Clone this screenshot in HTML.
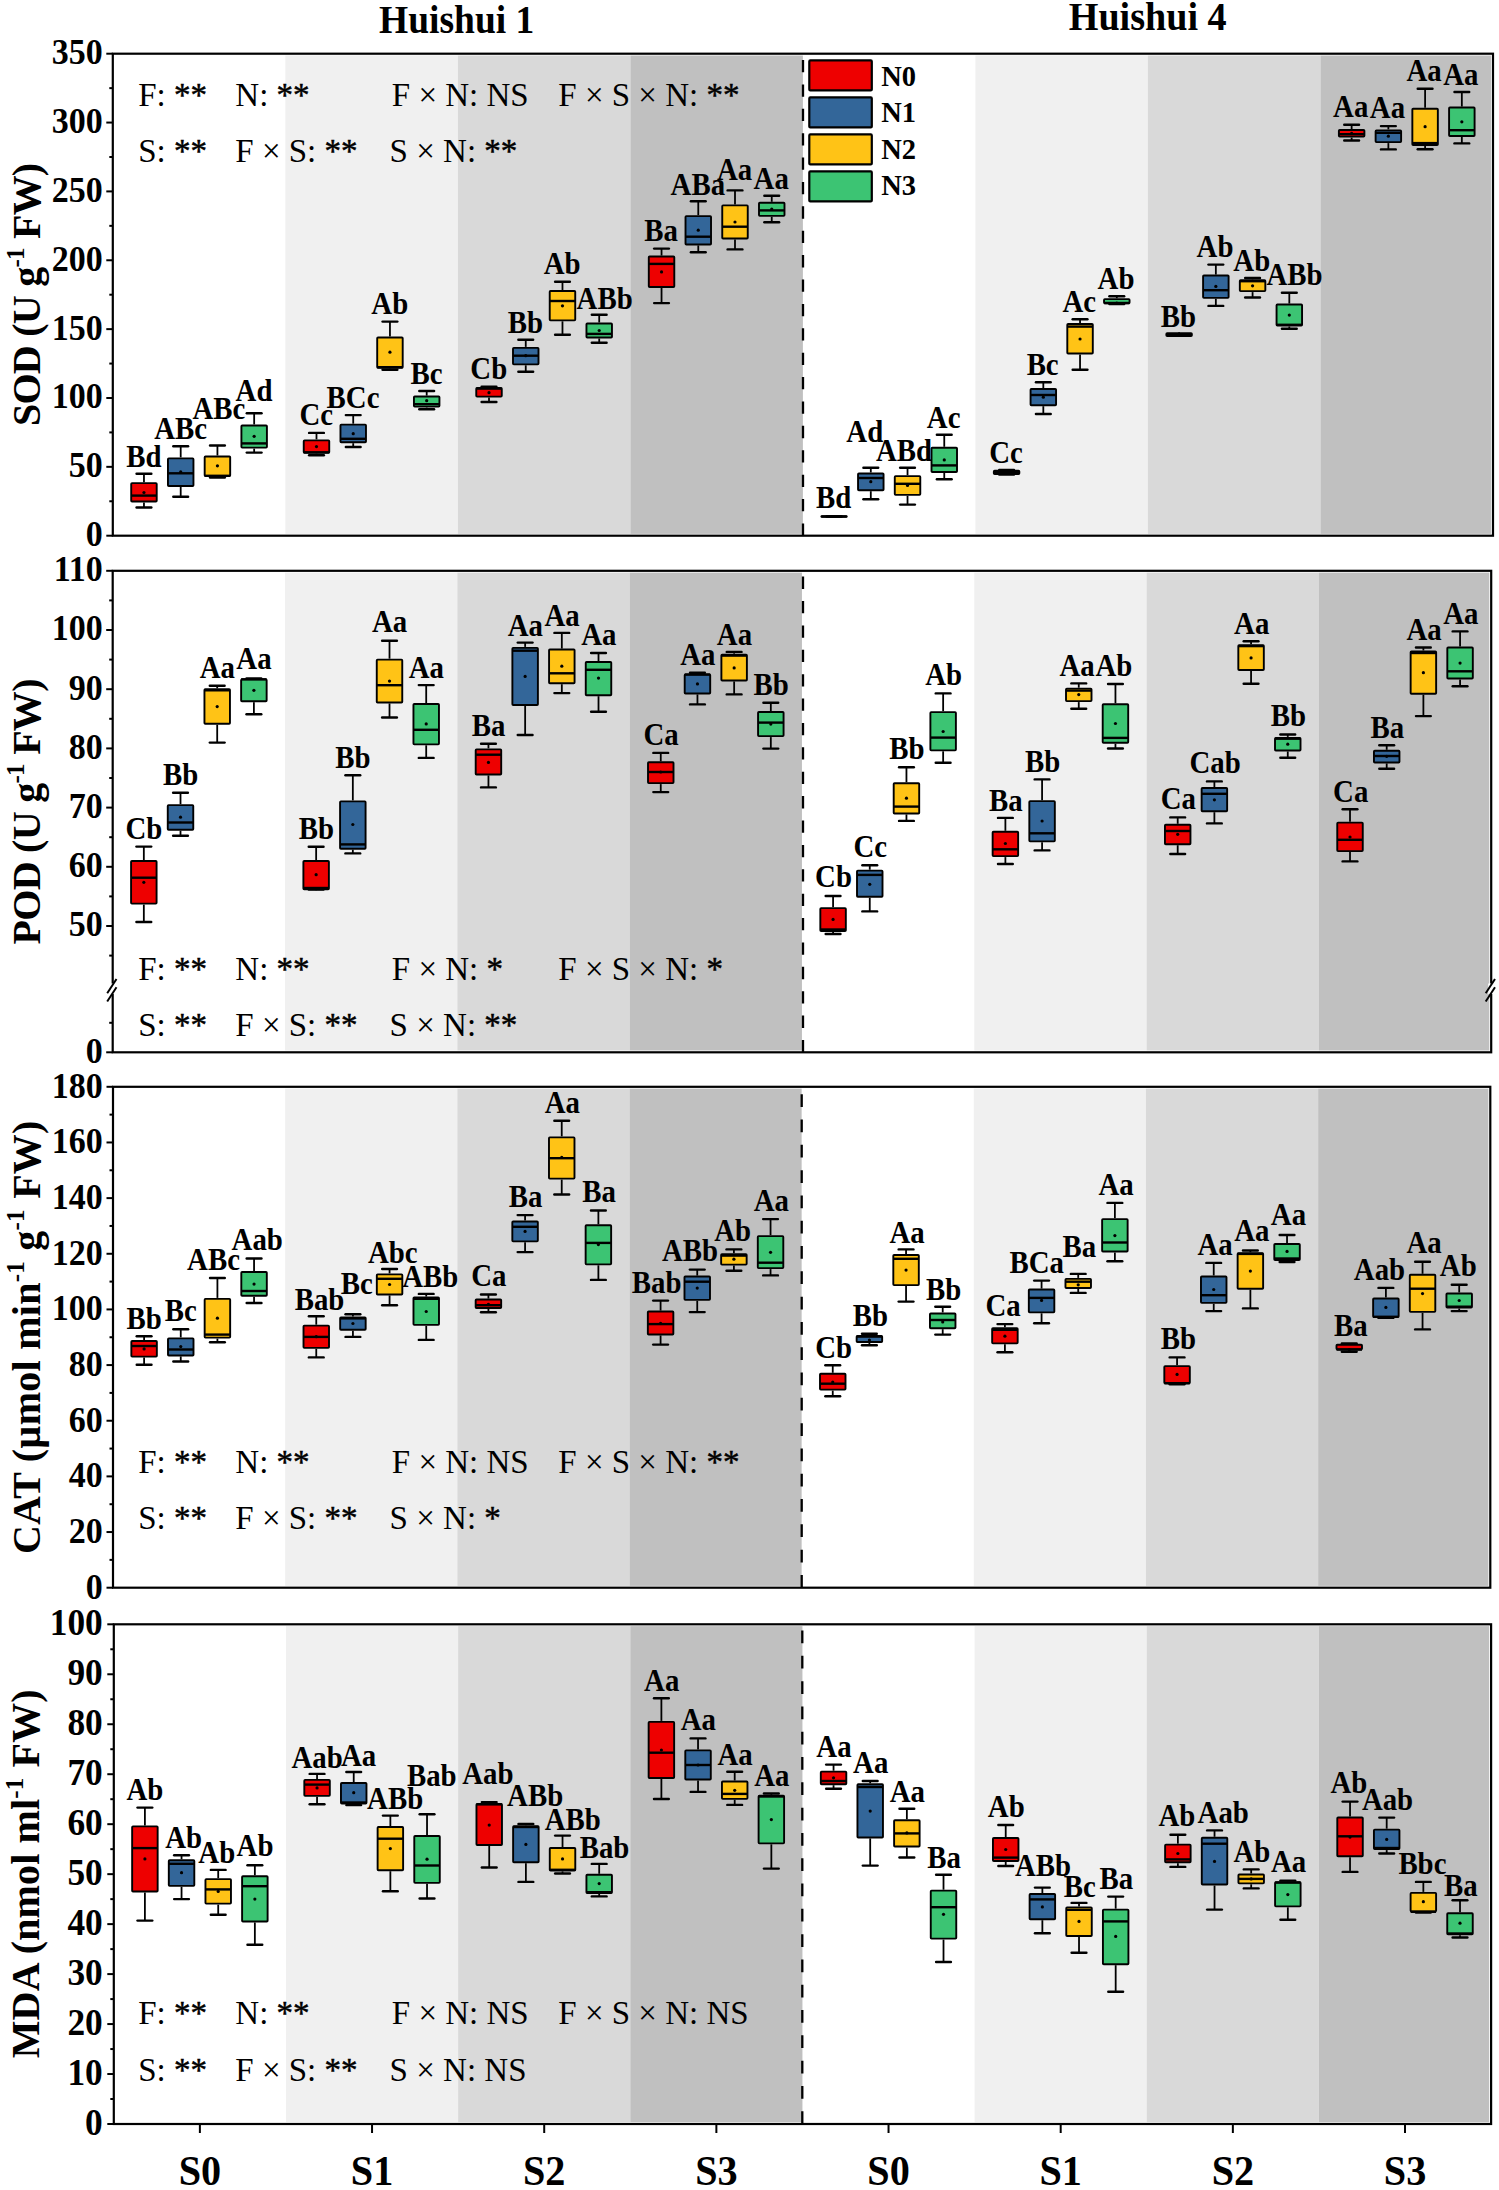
<!DOCTYPE html>
<html><head><meta charset="utf-8"><style>html,body{margin:0;padding:0;background:#fff;}</style></head>
<body><svg width="1499" height="2190" viewBox="0 0 1499 2190" style="display:block">
<rect width="1499" height="2190" fill="#fff"/>
<text transform="translate(456.7,32.6) scale(1.0,1.075)" text-anchor="middle" style="font-family:'Liberation Serif',serif;font-weight:bold;font-size:37.5px">Huishui 1</text>
<text transform="translate(1147.7,30.1) scale(1.017,1.05)" text-anchor="middle" style="font-family:'Liberation Serif',serif;font-weight:bold;font-size:37.5px">Huishui 4</text>
<rect x="285.32" y="55.50" width="172.53" height="478.40" fill="#F0F0F0"/>
<rect x="457.85" y="55.50" width="172.52" height="478.40" fill="#D9D9D9"/>
<rect x="630.38" y="55.50" width="172.52" height="478.40" fill="#C0C0C0"/>
<rect x="975.42" y="55.50" width="172.53" height="478.40" fill="#F0F0F0"/>
<rect x="1147.95" y="55.50" width="172.52" height="478.40" fill="#D9D9D9"/>
<rect x="1320.47" y="55.50" width="170.62" height="478.40" fill="#C0C0C0"/>
<line x1="803.00" y1="535.70" x2="803.00" y2="53.70" stroke="#000" stroke-width="2.3" stroke-dasharray="12.29,12.10"/>
<line x1="143.96" y1="473.80" x2="143.96" y2="482.20" stroke="#000" stroke-width="1.8"/>
<line x1="143.96" y1="502.50" x2="143.96" y2="507.50" stroke="#000" stroke-width="1.8"/>
<line x1="136.56" y1="473.80" x2="151.36" y2="473.80" stroke="#000" stroke-width="2.4" stroke-linecap="round"/>
<line x1="136.56" y1="507.50" x2="151.36" y2="507.50" stroke="#000" stroke-width="2.4" stroke-linecap="round"/>
<rect x="131.21" y="483.15" width="25.50" height="18.40" fill="#EE0000" stroke="#000" stroke-width="1.9" rx="0.8"/>
<line x1="131.21" y1="495.60" x2="156.71" y2="495.60" stroke="#000" stroke-width="2.4"/>
<circle cx="143.96" cy="492.50" r="1.6" fill="#000"/>
<text transform="translate(143.95,467.00) scale(1.03,1.1)" text-anchor="middle" style="font-family:'Liberation Serif',serif;font-weight:bold;font-size:28px">Bd</text>
<line x1="180.70" y1="446.30" x2="180.70" y2="457.40" stroke="#000" stroke-width="1.8"/>
<line x1="180.70" y1="487.00" x2="180.70" y2="496.80" stroke="#000" stroke-width="1.8"/>
<line x1="173.30" y1="446.30" x2="188.10" y2="446.30" stroke="#000" stroke-width="2.4" stroke-linecap="round"/>
<line x1="173.30" y1="496.80" x2="188.10" y2="496.80" stroke="#000" stroke-width="2.4" stroke-linecap="round"/>
<rect x="167.95" y="458.35" width="25.50" height="27.70" fill="#336699" stroke="#000" stroke-width="1.9" rx="0.8"/>
<line x1="167.95" y1="473.30" x2="193.45" y2="473.30" stroke="#000" stroke-width="2.4"/>
<circle cx="180.70" cy="471.90" r="1.6" fill="#000"/>
<text transform="translate(180.65,439.40) scale(1.03,1.1)" text-anchor="middle" style="font-family:'Liberation Serif',serif;font-weight:bold;font-size:28px">ABc</text>
<line x1="217.43" y1="445.50" x2="217.43" y2="455.50" stroke="#000" stroke-width="1.8"/>
<line x1="217.43" y1="476.90" x2="217.43" y2="477.60" stroke="#000" stroke-width="1.8"/>
<line x1="210.03" y1="445.50" x2="224.83" y2="445.50" stroke="#000" stroke-width="2.4" stroke-linecap="round"/>
<line x1="210.03" y1="477.60" x2="224.83" y2="477.60" stroke="#000" stroke-width="2.4" stroke-linecap="round"/>
<rect x="204.68" y="456.45" width="25.50" height="19.50" fill="#FFC316" stroke="#000" stroke-width="1.9" rx="0.8"/>
<line x1="204.68" y1="475.80" x2="230.18" y2="475.80" stroke="#000" stroke-width="2.4"/>
<circle cx="217.43" cy="465.80" r="1.6" fill="#000"/>
<text transform="translate(218.85,419.40) scale(1.03,1.1)" text-anchor="middle" style="font-family:'Liberation Serif',serif;font-weight:bold;font-size:28px">ABc</text>
<line x1="254.16" y1="413.30" x2="254.16" y2="424.50" stroke="#000" stroke-width="1.8"/>
<line x1="254.16" y1="448.60" x2="254.16" y2="452.60" stroke="#000" stroke-width="1.8"/>
<line x1="246.76" y1="413.30" x2="261.56" y2="413.30" stroke="#000" stroke-width="2.4" stroke-linecap="round"/>
<line x1="246.76" y1="452.60" x2="261.56" y2="452.60" stroke="#000" stroke-width="2.4" stroke-linecap="round"/>
<rect x="241.41" y="425.45" width="25.50" height="22.20" fill="#3CC473" stroke="#000" stroke-width="1.9" rx="0.8"/>
<line x1="241.41" y1="443.40" x2="266.91" y2="443.40" stroke="#000" stroke-width="2.4"/>
<circle cx="254.16" cy="436.30" r="1.6" fill="#000"/>
<text transform="translate(254.05,401.00) scale(1.03,1.1)" text-anchor="middle" style="font-family:'Liberation Serif',serif;font-weight:bold;font-size:28px">Ad</text>
<line x1="316.49" y1="432.90" x2="316.49" y2="439.40" stroke="#000" stroke-width="1.8"/>
<line x1="316.49" y1="453.70" x2="316.49" y2="455.20" stroke="#000" stroke-width="1.8"/>
<line x1="309.09" y1="432.90" x2="323.89" y2="432.90" stroke="#000" stroke-width="2.4" stroke-linecap="round"/>
<line x1="309.09" y1="455.20" x2="323.89" y2="455.20" stroke="#000" stroke-width="2.4" stroke-linecap="round"/>
<rect x="303.74" y="440.35" width="25.50" height="12.40" fill="#EE0000" stroke="#000" stroke-width="1.9" rx="0.8"/>
<line x1="303.74" y1="452.30" x2="329.24" y2="452.30" stroke="#000" stroke-width="2.4"/>
<circle cx="316.49" cy="446.60" r="1.6" fill="#000"/>
<text transform="translate(316.35,425.10) scale(1.03,1.1)" text-anchor="middle" style="font-family:'Liberation Serif',serif;font-weight:bold;font-size:28px">Cc</text>
<line x1="353.22" y1="415.10" x2="353.22" y2="423.70" stroke="#000" stroke-width="1.8"/>
<line x1="353.22" y1="443.20" x2="353.22" y2="447.00" stroke="#000" stroke-width="1.8"/>
<line x1="345.82" y1="415.10" x2="360.62" y2="415.10" stroke="#000" stroke-width="2.4" stroke-linecap="round"/>
<line x1="345.82" y1="447.00" x2="360.62" y2="447.00" stroke="#000" stroke-width="2.4" stroke-linecap="round"/>
<rect x="340.47" y="424.65" width="25.50" height="17.60" fill="#336699" stroke="#000" stroke-width="1.9" rx="0.8"/>
<line x1="340.47" y1="438.80" x2="365.97" y2="438.80" stroke="#000" stroke-width="2.4"/>
<circle cx="353.22" cy="433.70" r="1.6" fill="#000"/>
<text transform="translate(353.05,407.60) scale(1.03,1.1)" text-anchor="middle" style="font-family:'Liberation Serif',serif;font-weight:bold;font-size:28px">BCc</text>
<line x1="389.95" y1="321.60" x2="389.95" y2="336.50" stroke="#000" stroke-width="1.8"/>
<line x1="389.95" y1="368.80" x2="389.95" y2="369.70" stroke="#000" stroke-width="1.8"/>
<line x1="382.55" y1="321.60" x2="397.35" y2="321.60" stroke="#000" stroke-width="2.4" stroke-linecap="round"/>
<line x1="382.55" y1="369.70" x2="397.35" y2="369.70" stroke="#000" stroke-width="2.4" stroke-linecap="round"/>
<rect x="377.20" y="337.45" width="25.50" height="30.40" fill="#FFC316" stroke="#000" stroke-width="1.9" rx="0.8"/>
<line x1="377.20" y1="367.20" x2="402.70" y2="367.20" stroke="#000" stroke-width="2.4"/>
<circle cx="389.95" cy="352.20" r="1.6" fill="#000"/>
<text transform="translate(389.75,314.10) scale(1.03,1.1)" text-anchor="middle" style="font-family:'Liberation Serif',serif;font-weight:bold;font-size:28px">Ab</text>
<line x1="426.69" y1="391.00" x2="426.69" y2="395.60" stroke="#000" stroke-width="1.8"/>
<line x1="426.69" y1="407.60" x2="426.69" y2="409.30" stroke="#000" stroke-width="1.8"/>
<line x1="419.29" y1="391.00" x2="434.09" y2="391.00" stroke="#000" stroke-width="2.4" stroke-linecap="round"/>
<line x1="419.29" y1="409.30" x2="434.09" y2="409.30" stroke="#000" stroke-width="2.4" stroke-linecap="round"/>
<rect x="413.94" y="396.55" width="25.50" height="10.10" fill="#3CC473" stroke="#000" stroke-width="1.9" rx="0.8"/>
<line x1="413.94" y1="404.20" x2="439.44" y2="404.20" stroke="#000" stroke-width="2.4"/>
<circle cx="426.69" cy="400.70" r="1.6" fill="#000"/>
<text transform="translate(426.45,383.80) scale(1.03,1.1)" text-anchor="middle" style="font-family:'Liberation Serif',serif;font-weight:bold;font-size:28px">Bc</text>
<line x1="489.01" y1="386.70" x2="489.01" y2="387.00" stroke="#000" stroke-width="1.8"/>
<line x1="489.01" y1="397.60" x2="489.01" y2="402.00" stroke="#000" stroke-width="1.8"/>
<line x1="481.61" y1="386.70" x2="496.41" y2="386.70" stroke="#000" stroke-width="2.4" stroke-linecap="round"/>
<line x1="481.61" y1="402.00" x2="496.41" y2="402.00" stroke="#000" stroke-width="2.4" stroke-linecap="round"/>
<rect x="476.26" y="387.95" width="25.50" height="8.70" fill="#EE0000" stroke="#000" stroke-width="1.9" rx="0.8"/>
<line x1="476.26" y1="388.60" x2="501.76" y2="388.60" stroke="#000" stroke-width="2.4"/>
<circle cx="489.01" cy="392.70" r="1.6" fill="#000"/>
<text transform="translate(488.75,379.30) scale(1.03,1.1)" text-anchor="middle" style="font-family:'Liberation Serif',serif;font-weight:bold;font-size:28px">Cb</text>
<line x1="525.75" y1="339.70" x2="525.75" y2="346.90" stroke="#000" stroke-width="1.8"/>
<line x1="525.75" y1="365.30" x2="525.75" y2="371.80" stroke="#000" stroke-width="1.8"/>
<line x1="518.35" y1="339.70" x2="533.15" y2="339.70" stroke="#000" stroke-width="2.4" stroke-linecap="round"/>
<line x1="518.35" y1="371.80" x2="533.15" y2="371.80" stroke="#000" stroke-width="2.4" stroke-linecap="round"/>
<rect x="513.00" y="347.85" width="25.50" height="16.50" fill="#336699" stroke="#000" stroke-width="1.9" rx="0.8"/>
<line x1="513.00" y1="355.70" x2="538.50" y2="355.70" stroke="#000" stroke-width="2.4"/>
<circle cx="525.75" cy="355.70" r="1.6" fill="#000"/>
<text transform="translate(525.45,333.40) scale(1.03,1.1)" text-anchor="middle" style="font-family:'Liberation Serif',serif;font-weight:bold;font-size:28px">Bb</text>
<line x1="562.48" y1="281.70" x2="562.48" y2="290.00" stroke="#000" stroke-width="1.8"/>
<line x1="562.48" y1="321.30" x2="562.48" y2="334.80" stroke="#000" stroke-width="1.8"/>
<line x1="555.08" y1="281.70" x2="569.88" y2="281.70" stroke="#000" stroke-width="2.4" stroke-linecap="round"/>
<line x1="555.08" y1="334.80" x2="569.88" y2="334.80" stroke="#000" stroke-width="2.4" stroke-linecap="round"/>
<rect x="549.73" y="290.95" width="25.50" height="29.40" fill="#FFC316" stroke="#000" stroke-width="1.9" rx="0.8"/>
<line x1="549.73" y1="301.00" x2="575.23" y2="301.00" stroke="#000" stroke-width="2.4"/>
<circle cx="562.48" cy="305.80" r="1.6" fill="#000"/>
<text transform="translate(562.15,273.70) scale(1.03,1.1)" text-anchor="middle" style="font-family:'Liberation Serif',serif;font-weight:bold;font-size:28px">Ab</text>
<line x1="599.21" y1="314.80" x2="599.21" y2="322.50" stroke="#000" stroke-width="1.8"/>
<line x1="599.21" y1="338.50" x2="599.21" y2="342.80" stroke="#000" stroke-width="1.8"/>
<line x1="591.81" y1="314.80" x2="606.61" y2="314.80" stroke="#000" stroke-width="2.4" stroke-linecap="round"/>
<line x1="591.81" y1="342.80" x2="606.61" y2="342.80" stroke="#000" stroke-width="2.4" stroke-linecap="round"/>
<rect x="586.46" y="323.45" width="25.50" height="14.10" fill="#3CC473" stroke="#000" stroke-width="1.9" rx="0.8"/>
<line x1="586.46" y1="333.90" x2="611.96" y2="333.90" stroke="#000" stroke-width="2.4"/>
<circle cx="599.21" cy="330.50" r="1.6" fill="#000"/>
<text transform="translate(604.65,308.50) scale(1.03,1.1)" text-anchor="middle" style="font-family:'Liberation Serif',serif;font-weight:bold;font-size:28px">ABb</text>
<line x1="661.54" y1="248.60" x2="661.54" y2="255.60" stroke="#000" stroke-width="1.8"/>
<line x1="661.54" y1="287.90" x2="661.54" y2="303.10" stroke="#000" stroke-width="1.8"/>
<line x1="654.14" y1="248.60" x2="668.94" y2="248.60" stroke="#000" stroke-width="2.4" stroke-linecap="round"/>
<line x1="654.14" y1="303.10" x2="668.94" y2="303.10" stroke="#000" stroke-width="2.4" stroke-linecap="round"/>
<rect x="648.79" y="256.55" width="25.50" height="30.40" fill="#EE0000" stroke="#000" stroke-width="1.9" rx="0.8"/>
<line x1="648.79" y1="263.90" x2="674.29" y2="263.90" stroke="#000" stroke-width="2.4"/>
<circle cx="661.54" cy="271.90" r="1.6" fill="#000"/>
<text transform="translate(661.15,240.50) scale(1.03,1.1)" text-anchor="middle" style="font-family:'Liberation Serif',serif;font-weight:bold;font-size:28px">Ba</text>
<line x1="698.27" y1="201.30" x2="698.27" y2="215.20" stroke="#000" stroke-width="1.8"/>
<line x1="698.27" y1="245.40" x2="698.27" y2="252.30" stroke="#000" stroke-width="1.8"/>
<line x1="690.87" y1="201.30" x2="705.67" y2="201.30" stroke="#000" stroke-width="2.4" stroke-linecap="round"/>
<line x1="690.87" y1="252.30" x2="705.67" y2="252.30" stroke="#000" stroke-width="2.4" stroke-linecap="round"/>
<rect x="685.52" y="216.15" width="25.50" height="28.30" fill="#336699" stroke="#000" stroke-width="1.9" rx="0.8"/>
<line x1="685.52" y1="236.70" x2="711.02" y2="236.70" stroke="#000" stroke-width="2.4"/>
<circle cx="698.27" cy="230.20" r="1.6" fill="#000"/>
<text transform="translate(697.85,194.60) scale(1.03,1.1)" text-anchor="middle" style="font-family:'Liberation Serif',serif;font-weight:bold;font-size:28px">ABa</text>
<line x1="735.00" y1="190.40" x2="735.00" y2="204.40" stroke="#000" stroke-width="1.8"/>
<line x1="735.00" y1="239.40" x2="735.00" y2="249.40" stroke="#000" stroke-width="1.8"/>
<line x1="727.60" y1="190.40" x2="742.40" y2="190.40" stroke="#000" stroke-width="2.4" stroke-linecap="round"/>
<line x1="727.60" y1="249.40" x2="742.40" y2="249.40" stroke="#000" stroke-width="2.4" stroke-linecap="round"/>
<rect x="722.25" y="205.35" width="25.50" height="33.10" fill="#FFC316" stroke="#000" stroke-width="1.9" rx="0.8"/>
<line x1="722.25" y1="226.70" x2="747.75" y2="226.70" stroke="#000" stroke-width="2.4"/>
<circle cx="735.00" cy="222.00" r="1.6" fill="#000"/>
<text transform="translate(734.55,179.60) scale(1.03,1.1)" text-anchor="middle" style="font-family:'Liberation Serif',serif;font-weight:bold;font-size:28px">Aa</text>
<line x1="771.74" y1="195.80" x2="771.74" y2="201.80" stroke="#000" stroke-width="1.8"/>
<line x1="771.74" y1="216.80" x2="771.74" y2="222.30" stroke="#000" stroke-width="1.8"/>
<line x1="764.34" y1="195.80" x2="779.14" y2="195.80" stroke="#000" stroke-width="2.4" stroke-linecap="round"/>
<line x1="764.34" y1="222.30" x2="779.14" y2="222.30" stroke="#000" stroke-width="2.4" stroke-linecap="round"/>
<rect x="758.99" y="202.75" width="25.50" height="13.10" fill="#3CC473" stroke="#000" stroke-width="1.9" rx="0.8"/>
<line x1="758.99" y1="210.40" x2="784.49" y2="210.40" stroke="#000" stroke-width="2.4"/>
<circle cx="771.74" cy="209.00" r="1.6" fill="#000"/>
<text transform="translate(771.25,188.90) scale(1.03,1.1)" text-anchor="middle" style="font-family:'Liberation Serif',serif;font-weight:bold;font-size:28px">Aa</text>
<line x1="834.06" y1="516.50" x2="834.06" y2="515.30" stroke="#000" stroke-width="1.8"/>
<line x1="834.06" y1="517.70" x2="834.06" y2="516.50" stroke="#000" stroke-width="1.8"/>
<line x1="826.66" y1="516.50" x2="841.46" y2="516.50" stroke="#000" stroke-width="2.4" stroke-linecap="round"/>
<line x1="826.66" y1="516.50" x2="841.46" y2="516.50" stroke="#000" stroke-width="2.4" stroke-linecap="round"/>
<rect x="821.31" y="516.25" width="25.50" height="0.50" fill="#EE0000" stroke="#000" stroke-width="1.9" rx="0.8"/>
<line x1="821.31" y1="516.50" x2="846.81" y2="516.50" stroke="#000" stroke-width="2.4"/>
<circle cx="834.06" cy="516.50" r="1.6" fill="#000"/>
<text transform="translate(833.55,507.90) scale(1.03,1.1)" text-anchor="middle" style="font-family:'Liberation Serif',serif;font-weight:bold;font-size:28px">Bd</text>
<line x1="870.80" y1="467.70" x2="870.80" y2="472.50" stroke="#000" stroke-width="1.8"/>
<line x1="870.80" y1="491.20" x2="870.80" y2="499.30" stroke="#000" stroke-width="1.8"/>
<line x1="863.40" y1="467.70" x2="878.20" y2="467.70" stroke="#000" stroke-width="2.4" stroke-linecap="round"/>
<line x1="863.40" y1="499.30" x2="878.20" y2="499.30" stroke="#000" stroke-width="2.4" stroke-linecap="round"/>
<rect x="858.05" y="473.45" width="25.50" height="16.80" fill="#336699" stroke="#000" stroke-width="1.9" rx="0.8"/>
<line x1="858.05" y1="478.00" x2="883.55" y2="478.00" stroke="#000" stroke-width="2.4"/>
<circle cx="870.80" cy="481.70" r="1.6" fill="#000"/>
<text transform="translate(864.75,441.70) scale(1.03,1.1)" text-anchor="middle" style="font-family:'Liberation Serif',serif;font-weight:bold;font-size:28px">Ad</text>
<line x1="907.53" y1="467.70" x2="907.53" y2="475.20" stroke="#000" stroke-width="1.8"/>
<line x1="907.53" y1="495.80" x2="907.53" y2="504.60" stroke="#000" stroke-width="1.8"/>
<line x1="900.13" y1="467.70" x2="914.93" y2="467.70" stroke="#000" stroke-width="2.4" stroke-linecap="round"/>
<line x1="900.13" y1="504.60" x2="914.93" y2="504.60" stroke="#000" stroke-width="2.4" stroke-linecap="round"/>
<rect x="894.78" y="476.15" width="25.50" height="18.70" fill="#FFC316" stroke="#000" stroke-width="1.9" rx="0.8"/>
<line x1="894.78" y1="483.80" x2="920.28" y2="483.80" stroke="#000" stroke-width="2.4"/>
<circle cx="907.53" cy="485.50" r="1.6" fill="#000"/>
<text transform="translate(903.95,461.40) scale(1.03,1.1)" text-anchor="middle" style="font-family:'Liberation Serif',serif;font-weight:bold;font-size:28px">ABd</text>
<line x1="944.26" y1="434.70" x2="944.26" y2="446.80" stroke="#000" stroke-width="1.8"/>
<line x1="944.26" y1="472.90" x2="944.26" y2="479.20" stroke="#000" stroke-width="1.8"/>
<line x1="936.86" y1="434.70" x2="951.66" y2="434.70" stroke="#000" stroke-width="2.4" stroke-linecap="round"/>
<line x1="936.86" y1="479.20" x2="951.66" y2="479.20" stroke="#000" stroke-width="2.4" stroke-linecap="round"/>
<rect x="931.51" y="447.75" width="25.50" height="24.20" fill="#3CC473" stroke="#000" stroke-width="1.9" rx="0.8"/>
<line x1="931.51" y1="465.40" x2="957.01" y2="465.40" stroke="#000" stroke-width="2.4"/>
<circle cx="944.26" cy="459.90" r="1.6" fill="#000"/>
<text transform="translate(943.65,427.60) scale(1.03,1.1)" text-anchor="middle" style="font-family:'Liberation Serif',serif;font-weight:bold;font-size:28px">Ac</text>
<line x1="1006.59" y1="470.00" x2="1006.59" y2="469.70" stroke="#000" stroke-width="1.8"/>
<line x1="1006.59" y1="474.90" x2="1006.59" y2="474.50" stroke="#000" stroke-width="1.8"/>
<line x1="999.19" y1="470.00" x2="1013.99" y2="470.00" stroke="#000" stroke-width="2.4" stroke-linecap="round"/>
<line x1="999.19" y1="474.50" x2="1013.99" y2="474.50" stroke="#000" stroke-width="2.4" stroke-linecap="round"/>
<rect x="993.84" y="470.65" width="25.50" height="3.30" fill="#EE0000" stroke="#000" stroke-width="1.9" rx="0.8"/>
<line x1="993.84" y1="472.20" x2="1019.34" y2="472.20" stroke="#000" stroke-width="2.4"/>
<circle cx="1006.59" cy="472.20" r="1.6" fill="#000"/>
<text transform="translate(1005.95,462.80) scale(1.03,1.1)" text-anchor="middle" style="font-family:'Liberation Serif',serif;font-weight:bold;font-size:28px">Cc</text>
<line x1="1043.32" y1="382.30" x2="1043.32" y2="388.00" stroke="#000" stroke-width="1.8"/>
<line x1="1043.32" y1="406.20" x2="1043.32" y2="414.00" stroke="#000" stroke-width="1.8"/>
<line x1="1035.92" y1="382.30" x2="1050.72" y2="382.30" stroke="#000" stroke-width="2.4" stroke-linecap="round"/>
<line x1="1035.92" y1="414.00" x2="1050.72" y2="414.00" stroke="#000" stroke-width="2.4" stroke-linecap="round"/>
<rect x="1030.57" y="388.95" width="25.50" height="16.30" fill="#336699" stroke="#000" stroke-width="1.9" rx="0.8"/>
<line x1="1030.57" y1="395.00" x2="1056.07" y2="395.00" stroke="#000" stroke-width="2.4"/>
<circle cx="1043.32" cy="397.20" r="1.6" fill="#000"/>
<text transform="translate(1042.65,374.50) scale(1.03,1.1)" text-anchor="middle" style="font-family:'Liberation Serif',serif;font-weight:bold;font-size:28px">Bc</text>
<line x1="1080.05" y1="319.30" x2="1080.05" y2="323.10" stroke="#000" stroke-width="1.8"/>
<line x1="1080.05" y1="354.50" x2="1080.05" y2="369.80" stroke="#000" stroke-width="1.8"/>
<line x1="1072.65" y1="319.30" x2="1087.45" y2="319.30" stroke="#000" stroke-width="2.4" stroke-linecap="round"/>
<line x1="1072.65" y1="369.80" x2="1087.45" y2="369.80" stroke="#000" stroke-width="2.4" stroke-linecap="round"/>
<rect x="1067.30" y="324.05" width="25.50" height="29.50" fill="#FFC316" stroke="#000" stroke-width="1.9" rx="0.8"/>
<line x1="1067.30" y1="326.60" x2="1092.80" y2="326.60" stroke="#000" stroke-width="2.4"/>
<circle cx="1080.05" cy="339.00" r="1.6" fill="#000"/>
<text transform="translate(1079.35,311.60) scale(1.03,1.1)" text-anchor="middle" style="font-family:'Liberation Serif',serif;font-weight:bold;font-size:28px">Ac</text>
<line x1="1116.79" y1="296.30" x2="1116.79" y2="298.20" stroke="#000" stroke-width="1.8"/>
<line x1="1116.79" y1="304.20" x2="1116.79" y2="304.00" stroke="#000" stroke-width="1.8"/>
<line x1="1109.39" y1="296.30" x2="1124.19" y2="296.30" stroke="#000" stroke-width="2.4" stroke-linecap="round"/>
<line x1="1109.39" y1="304.00" x2="1124.19" y2="304.00" stroke="#000" stroke-width="2.4" stroke-linecap="round"/>
<rect x="1104.04" y="299.15" width="25.50" height="4.10" fill="#3CC473" stroke="#000" stroke-width="1.9" rx="0.8"/>
<line x1="1104.04" y1="303.00" x2="1129.54" y2="303.00" stroke="#000" stroke-width="2.4"/>
<circle cx="1116.79" cy="303.00" r="1.6" fill="#000"/>
<text transform="translate(1116.05,288.50) scale(1.03,1.1)" text-anchor="middle" style="font-family:'Liberation Serif',serif;font-weight:bold;font-size:28px">Ab</text>
<line x1="1179.11" y1="334.60" x2="1179.11" y2="332.30" stroke="#000" stroke-width="1.8"/>
<line x1="1179.11" y1="336.90" x2="1179.11" y2="334.60" stroke="#000" stroke-width="1.8"/>
<line x1="1171.71" y1="334.60" x2="1186.51" y2="334.60" stroke="#000" stroke-width="2.4" stroke-linecap="round"/>
<line x1="1171.71" y1="334.60" x2="1186.51" y2="334.60" stroke="#000" stroke-width="2.4" stroke-linecap="round"/>
<rect x="1166.36" y="333.25" width="25.50" height="2.70" fill="#EE0000" stroke="#000" stroke-width="1.9" rx="0.8"/>
<line x1="1166.36" y1="334.60" x2="1191.86" y2="334.60" stroke="#000" stroke-width="2.4"/>
<circle cx="1179.11" cy="334.60" r="1.6" fill="#000"/>
<text transform="translate(1178.35,326.60) scale(1.03,1.1)" text-anchor="middle" style="font-family:'Liberation Serif',serif;font-weight:bold;font-size:28px">Bb</text>
<line x1="1215.85" y1="264.60" x2="1215.85" y2="274.60" stroke="#000" stroke-width="1.8"/>
<line x1="1215.85" y1="298.80" x2="1215.85" y2="305.90" stroke="#000" stroke-width="1.8"/>
<line x1="1208.45" y1="264.60" x2="1223.25" y2="264.60" stroke="#000" stroke-width="2.4" stroke-linecap="round"/>
<line x1="1208.45" y1="305.90" x2="1223.25" y2="305.90" stroke="#000" stroke-width="2.4" stroke-linecap="round"/>
<rect x="1203.10" y="275.55" width="25.50" height="22.30" fill="#336699" stroke="#000" stroke-width="1.9" rx="0.8"/>
<line x1="1203.10" y1="290.20" x2="1228.60" y2="290.20" stroke="#000" stroke-width="2.4"/>
<circle cx="1215.85" cy="286.40" r="1.6" fill="#000"/>
<text transform="translate(1215.05,257.20) scale(1.03,1.1)" text-anchor="middle" style="font-family:'Liberation Serif',serif;font-weight:bold;font-size:28px">Ab</text>
<line x1="1252.58" y1="278.00" x2="1252.58" y2="279.30" stroke="#000" stroke-width="1.8"/>
<line x1="1252.58" y1="292.10" x2="1252.58" y2="297.50" stroke="#000" stroke-width="1.8"/>
<line x1="1245.18" y1="278.00" x2="1259.98" y2="278.00" stroke="#000" stroke-width="2.4" stroke-linecap="round"/>
<line x1="1245.18" y1="297.50" x2="1259.98" y2="297.50" stroke="#000" stroke-width="2.4" stroke-linecap="round"/>
<rect x="1239.83" y="280.25" width="25.50" height="10.90" fill="#FFC316" stroke="#000" stroke-width="1.9" rx="0.8"/>
<line x1="1239.83" y1="281.20" x2="1265.33" y2="281.20" stroke="#000" stroke-width="2.4"/>
<circle cx="1252.58" cy="285.80" r="1.6" fill="#000"/>
<text transform="translate(1251.75,270.90) scale(1.03,1.1)" text-anchor="middle" style="font-family:'Liberation Serif',serif;font-weight:bold;font-size:28px">Ab</text>
<line x1="1289.31" y1="292.70" x2="1289.31" y2="303.60" stroke="#000" stroke-width="1.8"/>
<line x1="1289.31" y1="326.50" x2="1289.31" y2="328.80" stroke="#000" stroke-width="1.8"/>
<line x1="1281.91" y1="292.70" x2="1296.71" y2="292.70" stroke="#000" stroke-width="2.4" stroke-linecap="round"/>
<line x1="1281.91" y1="328.80" x2="1296.71" y2="328.80" stroke="#000" stroke-width="2.4" stroke-linecap="round"/>
<rect x="1276.56" y="304.55" width="25.50" height="21.00" fill="#3CC473" stroke="#000" stroke-width="1.9" rx="0.8"/>
<line x1="1276.56" y1="324.80" x2="1302.06" y2="324.80" stroke="#000" stroke-width="2.4"/>
<circle cx="1289.31" cy="315.10" r="1.6" fill="#000"/>
<text transform="translate(1294.45,284.70) scale(1.03,1.1)" text-anchor="middle" style="font-family:'Liberation Serif',serif;font-weight:bold;font-size:28px">ABb</text>
<line x1="1351.64" y1="124.80" x2="1351.64" y2="129.00" stroke="#000" stroke-width="1.8"/>
<line x1="1351.64" y1="137.60" x2="1351.64" y2="140.50" stroke="#000" stroke-width="1.8"/>
<line x1="1344.24" y1="124.80" x2="1359.04" y2="124.80" stroke="#000" stroke-width="2.4" stroke-linecap="round"/>
<line x1="1344.24" y1="140.50" x2="1359.04" y2="140.50" stroke="#000" stroke-width="2.4" stroke-linecap="round"/>
<rect x="1338.89" y="129.95" width="25.50" height="6.70" fill="#EE0000" stroke="#000" stroke-width="1.9" rx="0.8"/>
<line x1="1338.89" y1="134.20" x2="1364.39" y2="134.20" stroke="#000" stroke-width="2.4"/>
<circle cx="1351.64" cy="133.40" r="1.6" fill="#000"/>
<text transform="translate(1350.75,117.00) scale(1.03,1.1)" text-anchor="middle" style="font-family:'Liberation Serif',serif;font-weight:bold;font-size:28px">Aa</text>
<line x1="1388.37" y1="126.10" x2="1388.37" y2="129.40" stroke="#000" stroke-width="1.8"/>
<line x1="1388.37" y1="143.10" x2="1388.37" y2="149.40" stroke="#000" stroke-width="1.8"/>
<line x1="1380.97" y1="126.10" x2="1395.77" y2="126.10" stroke="#000" stroke-width="2.4" stroke-linecap="round"/>
<line x1="1380.97" y1="149.40" x2="1395.77" y2="149.40" stroke="#000" stroke-width="2.4" stroke-linecap="round"/>
<rect x="1375.62" y="130.35" width="25.50" height="11.80" fill="#336699" stroke="#000" stroke-width="1.9" rx="0.8"/>
<line x1="1375.62" y1="132.80" x2="1401.12" y2="132.80" stroke="#000" stroke-width="2.4"/>
<circle cx="1388.37" cy="136.20" r="1.6" fill="#000"/>
<text transform="translate(1387.45,117.60) scale(1.03,1.1)" text-anchor="middle" style="font-family:'Liberation Serif',serif;font-weight:bold;font-size:28px">Aa</text>
<line x1="1425.10" y1="88.80" x2="1425.10" y2="107.80" stroke="#000" stroke-width="1.8"/>
<line x1="1425.10" y1="145.90" x2="1425.10" y2="149.30" stroke="#000" stroke-width="1.8"/>
<line x1="1417.70" y1="88.80" x2="1432.50" y2="88.80" stroke="#000" stroke-width="2.4" stroke-linecap="round"/>
<line x1="1417.70" y1="149.30" x2="1432.50" y2="149.30" stroke="#000" stroke-width="2.4" stroke-linecap="round"/>
<rect x="1412.35" y="108.75" width="25.50" height="36.20" fill="#FFC316" stroke="#000" stroke-width="1.9" rx="0.8"/>
<line x1="1412.35" y1="143.10" x2="1437.85" y2="143.10" stroke="#000" stroke-width="2.4"/>
<circle cx="1425.10" cy="126.70" r="1.6" fill="#000"/>
<text transform="translate(1424.15,80.60) scale(1.03,1.1)" text-anchor="middle" style="font-family:'Liberation Serif',serif;font-weight:bold;font-size:28px">Aa</text>
<line x1="1461.84" y1="92.00" x2="1461.84" y2="106.60" stroke="#000" stroke-width="1.8"/>
<line x1="1461.84" y1="137.00" x2="1461.84" y2="143.40" stroke="#000" stroke-width="1.8"/>
<line x1="1454.44" y1="92.00" x2="1469.24" y2="92.00" stroke="#000" stroke-width="2.4" stroke-linecap="round"/>
<line x1="1454.44" y1="143.40" x2="1469.24" y2="143.40" stroke="#000" stroke-width="2.4" stroke-linecap="round"/>
<rect x="1449.09" y="107.55" width="25.50" height="28.50" fill="#3CC473" stroke="#000" stroke-width="1.9" rx="0.8"/>
<line x1="1449.09" y1="130.20" x2="1474.59" y2="130.20" stroke="#000" stroke-width="2.4"/>
<circle cx="1461.84" cy="121.80" r="1.6" fill="#000"/>
<text transform="translate(1460.85,84.90) scale(1.03,1.1)" text-anchor="middle" style="font-family:'Liberation Serif',serif;font-weight:bold;font-size:28px">Aa</text>
<rect x="112.80" y="53.70" width="1380.20" height="482.00" fill="none" stroke="#000" stroke-width="2.2"/>
<line x1="106.30" y1="535.70" x2="112.80" y2="535.70" stroke="#000" stroke-width="2"/>
<text transform="translate(102.8,546.10) scale(1,1.065)" text-anchor="end" style="font-family:'Liberation Serif',serif;font-weight:bold;font-size:34px">0</text>
<line x1="109.30" y1="501.27" x2="112.80" y2="501.27" stroke="#000" stroke-width="2"/>
<line x1="106.30" y1="466.84" x2="112.80" y2="466.84" stroke="#000" stroke-width="2"/>
<text transform="translate(102.8,477.24) scale(1,1.065)" text-anchor="end" style="font-family:'Liberation Serif',serif;font-weight:bold;font-size:34px">50</text>
<line x1="109.30" y1="432.41" x2="112.80" y2="432.41" stroke="#000" stroke-width="2"/>
<line x1="106.30" y1="397.99" x2="112.80" y2="397.99" stroke="#000" stroke-width="2"/>
<text transform="translate(102.8,408.39) scale(1,1.065)" text-anchor="end" style="font-family:'Liberation Serif',serif;font-weight:bold;font-size:34px">100</text>
<line x1="109.30" y1="363.56" x2="112.80" y2="363.56" stroke="#000" stroke-width="2"/>
<line x1="106.30" y1="329.13" x2="112.80" y2="329.13" stroke="#000" stroke-width="2"/>
<text transform="translate(102.8,339.53) scale(1,1.065)" text-anchor="end" style="font-family:'Liberation Serif',serif;font-weight:bold;font-size:34px">150</text>
<line x1="109.30" y1="294.70" x2="112.80" y2="294.70" stroke="#000" stroke-width="2"/>
<line x1="106.30" y1="260.27" x2="112.80" y2="260.27" stroke="#000" stroke-width="2"/>
<text transform="translate(102.8,270.67) scale(1,1.065)" text-anchor="end" style="font-family:'Liberation Serif',serif;font-weight:bold;font-size:34px">200</text>
<line x1="109.30" y1="225.84" x2="112.80" y2="225.84" stroke="#000" stroke-width="2"/>
<line x1="106.30" y1="191.41" x2="112.80" y2="191.41" stroke="#000" stroke-width="2"/>
<text transform="translate(102.8,201.81) scale(1,1.065)" text-anchor="end" style="font-family:'Liberation Serif',serif;font-weight:bold;font-size:34px">250</text>
<line x1="109.30" y1="156.99" x2="112.80" y2="156.99" stroke="#000" stroke-width="2"/>
<line x1="106.30" y1="122.56" x2="112.80" y2="122.56" stroke="#000" stroke-width="2"/>
<text transform="translate(102.8,132.96) scale(1,1.065)" text-anchor="end" style="font-family:'Liberation Serif',serif;font-weight:bold;font-size:34px">300</text>
<line x1="109.30" y1="88.13" x2="112.80" y2="88.13" stroke="#000" stroke-width="2"/>
<line x1="106.30" y1="53.70" x2="112.80" y2="53.70" stroke="#000" stroke-width="2"/>
<text transform="translate(102.8,64.10) scale(1,1.065)" text-anchor="end" style="font-family:'Liberation Serif',serif;font-weight:bold;font-size:34px">350</text>
<text x="138.2" y="105.8" style="font-family:'Liberation Serif',serif;font-size:33px">F: <tspan style="stroke:#000;stroke-width:0.5px">**</tspan></text>
<text x="235.3" y="105.8" style="font-family:'Liberation Serif',serif;font-size:33px">N: <tspan style="stroke:#000;stroke-width:0.5px">**</tspan></text>
<text x="391.8" y="105.8" style="font-family:'Liberation Serif',serif;font-size:33px">F × N: NS</text>
<text x="558.3" y="105.8" style="font-family:'Liberation Serif',serif;font-size:33px">F × S × N: <tspan style="stroke:#000;stroke-width:0.5px">**</tspan></text>
<text x="138.2" y="161.5" style="font-family:'Liberation Serif',serif;font-size:33px">S: <tspan style="stroke:#000;stroke-width:0.5px">**</tspan></text>
<text x="235.3" y="161.5" style="font-family:'Liberation Serif',serif;font-size:33px">F × S: <tspan style="stroke:#000;stroke-width:0.5px">**</tspan></text>
<text x="389.6" y="161.5" style="font-family:'Liberation Serif',serif;font-size:33px">S × N: <tspan style="stroke:#000;stroke-width:0.5px">**</tspan></text>
<text transform="translate(40,294.4) rotate(-90)" text-anchor="middle" xml:space="preserve" textLength="263.2" lengthAdjust="spacing" style="font-family:'Liberation Serif',serif;font-weight:bold;font-size:40px"><tspan>SOD (U g</tspan><tspan dy="-16" style="font-size:25px">-1</tspan><tspan dy="16"> FW)</tspan></text>
<rect x="285.01" y="572.60" width="172.31" height="477.90" fill="#F0F0F0"/>
<rect x="457.32" y="572.60" width="172.31" height="477.90" fill="#D9D9D9"/>
<rect x="629.64" y="572.60" width="172.31" height="477.90" fill="#C0C0C0"/>
<rect x="974.26" y="572.60" width="172.31" height="477.90" fill="#F0F0F0"/>
<rect x="1146.58" y="572.60" width="172.31" height="477.90" fill="#D9D9D9"/>
<rect x="1318.89" y="572.60" width="170.41" height="477.90" fill="#C0C0C0"/>
<line x1="803.00" y1="1052.30" x2="803.00" y2="570.80" stroke="#000" stroke-width="2.3" stroke-dasharray="12.29,12.10"/>
<line x1="143.83" y1="846.60" x2="143.83" y2="860.10" stroke="#000" stroke-width="1.8"/>
<line x1="143.83" y1="904.60" x2="143.83" y2="922.00" stroke="#000" stroke-width="1.8"/>
<line x1="136.43" y1="846.60" x2="151.23" y2="846.60" stroke="#000" stroke-width="2.4" stroke-linecap="round"/>
<line x1="136.43" y1="922.00" x2="151.23" y2="922.00" stroke="#000" stroke-width="2.4" stroke-linecap="round"/>
<rect x="131.08" y="861.05" width="25.50" height="42.60" fill="#EE0000" stroke="#000" stroke-width="1.9" rx="0.8"/>
<line x1="131.08" y1="877.70" x2="156.58" y2="877.70" stroke="#000" stroke-width="2.4"/>
<circle cx="143.83" cy="882.30" r="1.6" fill="#000"/>
<text transform="translate(143.86,839.20) scale(1.03,1.1)" text-anchor="middle" style="font-family:'Liberation Serif',serif;font-weight:bold;font-size:28px">Cb</text>
<line x1="180.51" y1="792.70" x2="180.51" y2="804.20" stroke="#000" stroke-width="1.8"/>
<line x1="180.51" y1="830.70" x2="180.51" y2="835.70" stroke="#000" stroke-width="1.8"/>
<line x1="173.11" y1="792.70" x2="187.91" y2="792.70" stroke="#000" stroke-width="2.4" stroke-linecap="round"/>
<line x1="173.11" y1="835.70" x2="187.91" y2="835.70" stroke="#000" stroke-width="2.4" stroke-linecap="round"/>
<rect x="167.76" y="805.15" width="25.50" height="24.60" fill="#336699" stroke="#000" stroke-width="1.9" rx="0.8"/>
<line x1="167.76" y1="822.50" x2="193.26" y2="822.50" stroke="#000" stroke-width="2.4"/>
<circle cx="180.51" cy="817.20" r="1.6" fill="#000"/>
<text transform="translate(180.56,784.90) scale(1.03,1.1)" text-anchor="middle" style="font-family:'Liberation Serif',serif;font-weight:bold;font-size:28px">Bb</text>
<line x1="217.20" y1="685.70" x2="217.20" y2="688.30" stroke="#000" stroke-width="1.8"/>
<line x1="217.20" y1="724.70" x2="217.20" y2="742.60" stroke="#000" stroke-width="1.8"/>
<line x1="209.80" y1="685.70" x2="224.60" y2="685.70" stroke="#000" stroke-width="2.4" stroke-linecap="round"/>
<line x1="209.80" y1="742.60" x2="224.60" y2="742.60" stroke="#000" stroke-width="2.4" stroke-linecap="round"/>
<rect x="204.45" y="689.25" width="25.50" height="34.50" fill="#FFC316" stroke="#000" stroke-width="1.9" rx="0.8"/>
<line x1="204.45" y1="690.30" x2="229.95" y2="690.30" stroke="#000" stroke-width="2.4"/>
<circle cx="217.20" cy="706.60" r="1.6" fill="#000"/>
<text transform="translate(217.26,678.30) scale(1.03,1.1)" text-anchor="middle" style="font-family:'Liberation Serif',serif;font-weight:bold;font-size:28px">Aa</text>
<line x1="253.89" y1="678.40" x2="253.89" y2="678.40" stroke="#000" stroke-width="1.8"/>
<line x1="253.89" y1="702.20" x2="253.89" y2="714.20" stroke="#000" stroke-width="1.8"/>
<line x1="246.49" y1="678.40" x2="261.29" y2="678.40" stroke="#000" stroke-width="2.4" stroke-linecap="round"/>
<line x1="246.49" y1="714.20" x2="261.29" y2="714.20" stroke="#000" stroke-width="2.4" stroke-linecap="round"/>
<rect x="241.14" y="679.35" width="25.50" height="21.90" fill="#3CC473" stroke="#000" stroke-width="1.9" rx="0.8"/>
<line x1="241.14" y1="679.30" x2="266.64" y2="679.30" stroke="#000" stroke-width="2.4"/>
<circle cx="253.89" cy="690.30" r="1.6" fill="#000"/>
<text transform="translate(253.96,669.10) scale(1.03,1.1)" text-anchor="middle" style="font-family:'Liberation Serif',serif;font-weight:bold;font-size:28px">Aa</text>
<line x1="316.14" y1="846.80" x2="316.14" y2="860.00" stroke="#000" stroke-width="1.8"/>
<line x1="316.14" y1="890.20" x2="316.14" y2="889.50" stroke="#000" stroke-width="1.8"/>
<line x1="308.74" y1="846.80" x2="323.54" y2="846.80" stroke="#000" stroke-width="2.4" stroke-linecap="round"/>
<line x1="308.74" y1="889.50" x2="323.54" y2="889.50" stroke="#000" stroke-width="2.4" stroke-linecap="round"/>
<rect x="303.39" y="860.95" width="25.50" height="28.30" fill="#EE0000" stroke="#000" stroke-width="1.9" rx="0.8"/>
<line x1="303.39" y1="888.00" x2="328.89" y2="888.00" stroke="#000" stroke-width="2.4"/>
<circle cx="316.14" cy="874.70" r="1.6" fill="#000"/>
<text transform="translate(316.27,839.00) scale(1.03,1.1)" text-anchor="middle" style="font-family:'Liberation Serif',serif;font-weight:bold;font-size:28px">Bb</text>
<line x1="352.83" y1="775.30" x2="352.83" y2="800.40" stroke="#000" stroke-width="1.8"/>
<line x1="352.83" y1="849.70" x2="352.83" y2="853.40" stroke="#000" stroke-width="1.8"/>
<line x1="345.43" y1="775.30" x2="360.23" y2="775.30" stroke="#000" stroke-width="2.4" stroke-linecap="round"/>
<line x1="345.43" y1="853.40" x2="360.23" y2="853.40" stroke="#000" stroke-width="2.4" stroke-linecap="round"/>
<rect x="340.08" y="801.35" width="25.50" height="47.40" fill="#336699" stroke="#000" stroke-width="1.9" rx="0.8"/>
<line x1="340.08" y1="844.40" x2="365.58" y2="844.40" stroke="#000" stroke-width="2.4"/>
<circle cx="352.83" cy="824.50" r="1.6" fill="#000"/>
<text transform="translate(352.97,767.50) scale(1.03,1.1)" text-anchor="middle" style="font-family:'Liberation Serif',serif;font-weight:bold;font-size:28px">Bb</text>
<line x1="389.51" y1="640.70" x2="389.51" y2="658.70" stroke="#000" stroke-width="1.8"/>
<line x1="389.51" y1="703.40" x2="389.51" y2="717.50" stroke="#000" stroke-width="1.8"/>
<line x1="382.11" y1="640.70" x2="396.91" y2="640.70" stroke="#000" stroke-width="2.4" stroke-linecap="round"/>
<line x1="382.11" y1="717.50" x2="396.91" y2="717.50" stroke="#000" stroke-width="2.4" stroke-linecap="round"/>
<rect x="376.76" y="659.65" width="25.50" height="42.80" fill="#FFC316" stroke="#000" stroke-width="1.9" rx="0.8"/>
<line x1="376.76" y1="685.20" x2="402.26" y2="685.20" stroke="#000" stroke-width="2.4"/>
<circle cx="389.51" cy="681.10" r="1.6" fill="#000"/>
<text transform="translate(389.67,632.40) scale(1.03,1.1)" text-anchor="middle" style="font-family:'Liberation Serif',serif;font-weight:bold;font-size:28px">Aa</text>
<line x1="426.20" y1="685.10" x2="426.20" y2="703.10" stroke="#000" stroke-width="1.8"/>
<line x1="426.20" y1="745.30" x2="426.20" y2="757.90" stroke="#000" stroke-width="1.8"/>
<line x1="418.80" y1="685.10" x2="433.60" y2="685.10" stroke="#000" stroke-width="2.4" stroke-linecap="round"/>
<line x1="418.80" y1="757.90" x2="433.60" y2="757.90" stroke="#000" stroke-width="2.4" stroke-linecap="round"/>
<rect x="413.45" y="704.05" width="25.50" height="40.30" fill="#3CC473" stroke="#000" stroke-width="1.9" rx="0.8"/>
<line x1="413.45" y1="729.80" x2="438.95" y2="729.80" stroke="#000" stroke-width="2.4"/>
<circle cx="426.20" cy="723.90" r="1.6" fill="#000"/>
<text transform="translate(426.37,677.50) scale(1.03,1.1)" text-anchor="middle" style="font-family:'Liberation Serif',serif;font-weight:bold;font-size:28px">Aa</text>
<line x1="488.45" y1="743.80" x2="488.45" y2="748.40" stroke="#000" stroke-width="1.8"/>
<line x1="488.45" y1="775.40" x2="488.45" y2="787.40" stroke="#000" stroke-width="1.8"/>
<line x1="481.05" y1="743.80" x2="495.85" y2="743.80" stroke="#000" stroke-width="2.4" stroke-linecap="round"/>
<line x1="481.05" y1="787.40" x2="495.85" y2="787.40" stroke="#000" stroke-width="2.4" stroke-linecap="round"/>
<rect x="475.70" y="749.35" width="25.50" height="25.10" fill="#EE0000" stroke="#000" stroke-width="1.9" rx="0.8"/>
<line x1="475.70" y1="754.70" x2="501.20" y2="754.70" stroke="#000" stroke-width="2.4"/>
<circle cx="488.45" cy="762.40" r="1.6" fill="#000"/>
<text transform="translate(488.68,736.40) scale(1.03,1.1)" text-anchor="middle" style="font-family:'Liberation Serif',serif;font-weight:bold;font-size:28px">Ba</text>
<line x1="525.14" y1="642.60" x2="525.14" y2="646.90" stroke="#000" stroke-width="1.8"/>
<line x1="525.14" y1="706.00" x2="525.14" y2="735.00" stroke="#000" stroke-width="1.8"/>
<line x1="517.74" y1="642.60" x2="532.54" y2="642.60" stroke="#000" stroke-width="2.4" stroke-linecap="round"/>
<line x1="517.74" y1="735.00" x2="532.54" y2="735.00" stroke="#000" stroke-width="2.4" stroke-linecap="round"/>
<rect x="512.39" y="647.85" width="25.50" height="57.20" fill="#336699" stroke="#000" stroke-width="1.9" rx="0.8"/>
<line x1="512.39" y1="650.70" x2="537.89" y2="650.70" stroke="#000" stroke-width="2.4"/>
<circle cx="525.14" cy="676.40" r="1.6" fill="#000"/>
<text transform="translate(525.38,635.70) scale(1.03,1.1)" text-anchor="middle" style="font-family:'Liberation Serif',serif;font-weight:bold;font-size:28px">Aa</text>
<line x1="561.82" y1="632.90" x2="561.82" y2="648.60" stroke="#000" stroke-width="1.8"/>
<line x1="561.82" y1="684.20" x2="561.82" y2="693.10" stroke="#000" stroke-width="1.8"/>
<line x1="554.42" y1="632.90" x2="569.22" y2="632.90" stroke="#000" stroke-width="2.4" stroke-linecap="round"/>
<line x1="554.42" y1="693.10" x2="569.22" y2="693.10" stroke="#000" stroke-width="2.4" stroke-linecap="round"/>
<rect x="549.07" y="649.55" width="25.50" height="33.70" fill="#FFC316" stroke="#000" stroke-width="1.9" rx="0.8"/>
<line x1="549.07" y1="673.30" x2="574.57" y2="673.30" stroke="#000" stroke-width="2.4"/>
<circle cx="561.82" cy="666.20" r="1.6" fill="#000"/>
<text transform="translate(562.08,625.70) scale(1.03,1.1)" text-anchor="middle" style="font-family:'Liberation Serif',serif;font-weight:bold;font-size:28px">Aa</text>
<line x1="598.51" y1="653.00" x2="598.51" y2="661.00" stroke="#000" stroke-width="1.8"/>
<line x1="598.51" y1="696.20" x2="598.51" y2="711.70" stroke="#000" stroke-width="1.8"/>
<line x1="591.11" y1="653.00" x2="605.91" y2="653.00" stroke="#000" stroke-width="2.4" stroke-linecap="round"/>
<line x1="591.11" y1="711.70" x2="605.91" y2="711.70" stroke="#000" stroke-width="2.4" stroke-linecap="round"/>
<rect x="585.76" y="661.95" width="25.50" height="33.30" fill="#3CC473" stroke="#000" stroke-width="1.9" rx="0.8"/>
<line x1="585.76" y1="669.80" x2="611.26" y2="669.80" stroke="#000" stroke-width="2.4"/>
<circle cx="598.51" cy="678.10" r="1.6" fill="#000"/>
<text transform="translate(598.78,645.20) scale(1.03,1.1)" text-anchor="middle" style="font-family:'Liberation Serif',serif;font-weight:bold;font-size:28px">Aa</text>
<line x1="660.76" y1="752.90" x2="660.76" y2="761.30" stroke="#000" stroke-width="1.8"/>
<line x1="660.76" y1="784.10" x2="660.76" y2="792.10" stroke="#000" stroke-width="1.8"/>
<line x1="653.36" y1="752.90" x2="668.16" y2="752.90" stroke="#000" stroke-width="2.4" stroke-linecap="round"/>
<line x1="653.36" y1="792.10" x2="668.16" y2="792.10" stroke="#000" stroke-width="2.4" stroke-linecap="round"/>
<rect x="648.01" y="762.25" width="25.50" height="20.90" fill="#EE0000" stroke="#000" stroke-width="1.9" rx="0.8"/>
<line x1="648.01" y1="772.00" x2="673.51" y2="772.00" stroke="#000" stroke-width="2.4"/>
<circle cx="660.76" cy="772.00" r="1.6" fill="#000"/>
<text transform="translate(661.09,744.90) scale(1.03,1.1)" text-anchor="middle" style="font-family:'Liberation Serif',serif;font-weight:bold;font-size:28px">Ca</text>
<line x1="697.45" y1="672.70" x2="697.45" y2="673.40" stroke="#000" stroke-width="1.8"/>
<line x1="697.45" y1="694.40" x2="697.45" y2="704.40" stroke="#000" stroke-width="1.8"/>
<line x1="690.05" y1="672.70" x2="704.85" y2="672.70" stroke="#000" stroke-width="2.4" stroke-linecap="round"/>
<line x1="690.05" y1="704.40" x2="704.85" y2="704.40" stroke="#000" stroke-width="2.4" stroke-linecap="round"/>
<rect x="684.70" y="674.35" width="25.50" height="19.10" fill="#336699" stroke="#000" stroke-width="1.9" rx="0.8"/>
<line x1="684.70" y1="674.60" x2="710.20" y2="674.60" stroke="#000" stroke-width="2.4"/>
<circle cx="697.45" cy="683.90" r="1.6" fill="#000"/>
<text transform="translate(697.79,665.20) scale(1.03,1.1)" text-anchor="middle" style="font-family:'Liberation Serif',serif;font-weight:bold;font-size:28px">Aa</text>
<line x1="734.14" y1="651.90" x2="734.14" y2="653.70" stroke="#000" stroke-width="1.8"/>
<line x1="734.14" y1="681.40" x2="734.14" y2="694.40" stroke="#000" stroke-width="1.8"/>
<line x1="726.74" y1="651.90" x2="741.54" y2="651.90" stroke="#000" stroke-width="2.4" stroke-linecap="round"/>
<line x1="726.74" y1="694.40" x2="741.54" y2="694.40" stroke="#000" stroke-width="2.4" stroke-linecap="round"/>
<rect x="721.39" y="654.65" width="25.50" height="25.80" fill="#FFC316" stroke="#000" stroke-width="1.9" rx="0.8"/>
<line x1="721.39" y1="655.60" x2="746.89" y2="655.60" stroke="#000" stroke-width="2.4"/>
<circle cx="734.14" cy="667.90" r="1.6" fill="#000"/>
<text transform="translate(734.49,644.50) scale(1.03,1.1)" text-anchor="middle" style="font-family:'Liberation Serif',serif;font-weight:bold;font-size:28px">Aa</text>
<line x1="770.82" y1="702.70" x2="770.82" y2="711.00" stroke="#000" stroke-width="1.8"/>
<line x1="770.82" y1="737.10" x2="770.82" y2="748.60" stroke="#000" stroke-width="1.8"/>
<line x1="763.42" y1="702.70" x2="778.22" y2="702.70" stroke="#000" stroke-width="2.4" stroke-linecap="round"/>
<line x1="763.42" y1="748.60" x2="778.22" y2="748.60" stroke="#000" stroke-width="2.4" stroke-linecap="round"/>
<rect x="758.07" y="711.95" width="25.50" height="24.20" fill="#3CC473" stroke="#000" stroke-width="1.9" rx="0.8"/>
<line x1="758.07" y1="722.60" x2="783.57" y2="722.60" stroke="#000" stroke-width="2.4"/>
<circle cx="770.82" cy="724.10" r="1.6" fill="#000"/>
<text transform="translate(771.19,695.20) scale(1.03,1.1)" text-anchor="middle" style="font-family:'Liberation Serif',serif;font-weight:bold;font-size:28px">Bb</text>
<line x1="833.08" y1="896.00" x2="833.08" y2="907.20" stroke="#000" stroke-width="1.8"/>
<line x1="833.08" y1="932.00" x2="833.08" y2="934.00" stroke="#000" stroke-width="1.8"/>
<line x1="825.68" y1="896.00" x2="840.48" y2="896.00" stroke="#000" stroke-width="2.4" stroke-linecap="round"/>
<line x1="825.68" y1="934.00" x2="840.48" y2="934.00" stroke="#000" stroke-width="2.4" stroke-linecap="round"/>
<rect x="820.33" y="908.15" width="25.50" height="22.90" fill="#EE0000" stroke="#000" stroke-width="1.9" rx="0.8"/>
<line x1="820.33" y1="929.50" x2="845.83" y2="929.50" stroke="#000" stroke-width="2.4"/>
<circle cx="833.08" cy="919.40" r="1.6" fill="#000"/>
<text transform="translate(833.51,886.60) scale(1.03,1.1)" text-anchor="middle" style="font-family:'Liberation Serif',serif;font-weight:bold;font-size:28px">Cb</text>
<line x1="869.76" y1="865.20" x2="869.76" y2="869.70" stroke="#000" stroke-width="1.8"/>
<line x1="869.76" y1="897.70" x2="869.76" y2="911.40" stroke="#000" stroke-width="1.8"/>
<line x1="862.36" y1="865.20" x2="877.16" y2="865.20" stroke="#000" stroke-width="2.4" stroke-linecap="round"/>
<line x1="862.36" y1="911.40" x2="877.16" y2="911.40" stroke="#000" stroke-width="2.4" stroke-linecap="round"/>
<rect x="857.01" y="870.65" width="25.50" height="26.10" fill="#336699" stroke="#000" stroke-width="1.9" rx="0.8"/>
<line x1="857.01" y1="874.90" x2="882.51" y2="874.90" stroke="#000" stroke-width="2.4"/>
<circle cx="869.76" cy="884.30" r="1.6" fill="#000"/>
<text transform="translate(870.21,856.70) scale(1.03,1.1)" text-anchor="middle" style="font-family:'Liberation Serif',serif;font-weight:bold;font-size:28px">Cc</text>
<line x1="906.45" y1="767.20" x2="906.45" y2="782.30" stroke="#000" stroke-width="1.8"/>
<line x1="906.45" y1="814.40" x2="906.45" y2="820.90" stroke="#000" stroke-width="1.8"/>
<line x1="899.05" y1="767.20" x2="913.85" y2="767.20" stroke="#000" stroke-width="2.4" stroke-linecap="round"/>
<line x1="899.05" y1="820.90" x2="913.85" y2="820.90" stroke="#000" stroke-width="2.4" stroke-linecap="round"/>
<rect x="893.70" y="783.25" width="25.50" height="30.20" fill="#FFC316" stroke="#000" stroke-width="1.9" rx="0.8"/>
<line x1="893.70" y1="806.60" x2="919.20" y2="806.60" stroke="#000" stroke-width="2.4"/>
<circle cx="906.45" cy="798.20" r="1.6" fill="#000"/>
<text transform="translate(906.91,759.10) scale(1.03,1.1)" text-anchor="middle" style="font-family:'Liberation Serif',serif;font-weight:bold;font-size:28px">Bb</text>
<line x1="943.14" y1="693.40" x2="943.14" y2="711.20" stroke="#000" stroke-width="1.8"/>
<line x1="943.14" y1="751.30" x2="943.14" y2="762.80" stroke="#000" stroke-width="1.8"/>
<line x1="935.74" y1="693.40" x2="950.54" y2="693.40" stroke="#000" stroke-width="2.4" stroke-linecap="round"/>
<line x1="935.74" y1="762.80" x2="950.54" y2="762.80" stroke="#000" stroke-width="2.4" stroke-linecap="round"/>
<rect x="930.39" y="712.15" width="25.50" height="38.20" fill="#3CC473" stroke="#000" stroke-width="1.9" rx="0.8"/>
<line x1="930.39" y1="737.60" x2="955.89" y2="737.60" stroke="#000" stroke-width="2.4"/>
<circle cx="943.14" cy="731.50" r="1.6" fill="#000"/>
<text transform="translate(943.61,684.50) scale(1.03,1.1)" text-anchor="middle" style="font-family:'Liberation Serif',serif;font-weight:bold;font-size:28px">Ab</text>
<line x1="1005.39" y1="817.90" x2="1005.39" y2="830.80" stroke="#000" stroke-width="1.8"/>
<line x1="1005.39" y1="857.10" x2="1005.39" y2="864.00" stroke="#000" stroke-width="1.8"/>
<line x1="997.99" y1="817.90" x2="1012.79" y2="817.90" stroke="#000" stroke-width="2.4" stroke-linecap="round"/>
<line x1="997.99" y1="864.00" x2="1012.79" y2="864.00" stroke="#000" stroke-width="2.4" stroke-linecap="round"/>
<rect x="992.64" y="831.75" width="25.50" height="24.40" fill="#EE0000" stroke="#000" stroke-width="1.9" rx="0.8"/>
<line x1="992.64" y1="849.30" x2="1018.14" y2="849.30" stroke="#000" stroke-width="2.4"/>
<circle cx="1005.39" cy="843.50" r="1.6" fill="#000"/>
<text transform="translate(1005.92,810.60) scale(1.03,1.1)" text-anchor="middle" style="font-family:'Liberation Serif',serif;font-weight:bold;font-size:28px">Ba</text>
<line x1="1042.08" y1="779.40" x2="1042.08" y2="800.20" stroke="#000" stroke-width="1.8"/>
<line x1="1042.08" y1="842.30" x2="1042.08" y2="850.40" stroke="#000" stroke-width="1.8"/>
<line x1="1034.68" y1="779.40" x2="1049.48" y2="779.40" stroke="#000" stroke-width="2.4" stroke-linecap="round"/>
<line x1="1034.68" y1="850.40" x2="1049.48" y2="850.40" stroke="#000" stroke-width="2.4" stroke-linecap="round"/>
<rect x="1029.33" y="801.15" width="25.50" height="40.20" fill="#336699" stroke="#000" stroke-width="1.9" rx="0.8"/>
<line x1="1029.33" y1="833.30" x2="1054.83" y2="833.30" stroke="#000" stroke-width="2.4"/>
<circle cx="1042.08" cy="821.00" r="1.6" fill="#000"/>
<text transform="translate(1042.62,772.00) scale(1.03,1.1)" text-anchor="middle" style="font-family:'Liberation Serif',serif;font-weight:bold;font-size:28px">Bb</text>
<line x1="1078.76" y1="683.40" x2="1078.76" y2="687.70" stroke="#000" stroke-width="1.8"/>
<line x1="1078.76" y1="702.10" x2="1078.76" y2="708.70" stroke="#000" stroke-width="1.8"/>
<line x1="1071.36" y1="683.40" x2="1086.16" y2="683.40" stroke="#000" stroke-width="2.4" stroke-linecap="round"/>
<line x1="1071.36" y1="708.70" x2="1086.16" y2="708.70" stroke="#000" stroke-width="2.4" stroke-linecap="round"/>
<rect x="1066.01" y="688.65" width="25.50" height="12.50" fill="#FFC316" stroke="#000" stroke-width="1.9" rx="0.8"/>
<line x1="1066.01" y1="690.60" x2="1091.51" y2="690.60" stroke="#000" stroke-width="2.4"/>
<circle cx="1078.76" cy="694.60" r="1.6" fill="#000"/>
<text transform="translate(1077.12,675.60) scale(1.03,1.1)" text-anchor="middle" style="font-family:'Liberation Serif',serif;font-weight:bold;font-size:28px">Aa</text>
<line x1="1115.45" y1="684.00" x2="1115.45" y2="703.30" stroke="#000" stroke-width="1.8"/>
<line x1="1115.45" y1="743.70" x2="1115.45" y2="748.50" stroke="#000" stroke-width="1.8"/>
<line x1="1108.05" y1="684.00" x2="1122.85" y2="684.00" stroke="#000" stroke-width="2.4" stroke-linecap="round"/>
<line x1="1108.05" y1="748.50" x2="1122.85" y2="748.50" stroke="#000" stroke-width="2.4" stroke-linecap="round"/>
<rect x="1102.70" y="704.25" width="25.50" height="38.50" fill="#3CC473" stroke="#000" stroke-width="1.9" rx="0.8"/>
<line x1="1102.70" y1="737.90" x2="1128.20" y2="737.90" stroke="#000" stroke-width="2.4"/>
<circle cx="1115.45" cy="723.50" r="1.6" fill="#000"/>
<text transform="translate(1113.82,675.80) scale(1.03,1.1)" text-anchor="middle" style="font-family:'Liberation Serif',serif;font-weight:bold;font-size:28px">Ab</text>
<line x1="1177.70" y1="817.40" x2="1177.70" y2="823.80" stroke="#000" stroke-width="1.8"/>
<line x1="1177.70" y1="845.20" x2="1177.70" y2="854.00" stroke="#000" stroke-width="1.8"/>
<line x1="1170.30" y1="817.40" x2="1185.10" y2="817.40" stroke="#000" stroke-width="2.4" stroke-linecap="round"/>
<line x1="1170.30" y1="854.00" x2="1185.10" y2="854.00" stroke="#000" stroke-width="2.4" stroke-linecap="round"/>
<rect x="1164.95" y="824.75" width="25.50" height="19.50" fill="#EE0000" stroke="#000" stroke-width="1.9" rx="0.8"/>
<line x1="1164.95" y1="831.00" x2="1190.45" y2="831.00" stroke="#000" stroke-width="2.4"/>
<circle cx="1177.70" cy="834.30" r="1.6" fill="#000"/>
<text transform="translate(1178.33,808.90) scale(1.03,1.1)" text-anchor="middle" style="font-family:'Liberation Serif',serif;font-weight:bold;font-size:28px">Ca</text>
<line x1="1214.39" y1="781.40" x2="1214.39" y2="787.10" stroke="#000" stroke-width="1.8"/>
<line x1="1214.39" y1="812.20" x2="1214.39" y2="823.40" stroke="#000" stroke-width="1.8"/>
<line x1="1206.99" y1="781.40" x2="1221.79" y2="781.40" stroke="#000" stroke-width="2.4" stroke-linecap="round"/>
<line x1="1206.99" y1="823.40" x2="1221.79" y2="823.40" stroke="#000" stroke-width="2.4" stroke-linecap="round"/>
<rect x="1201.64" y="788.05" width="25.50" height="23.20" fill="#336699" stroke="#000" stroke-width="1.9" rx="0.8"/>
<line x1="1201.64" y1="793.80" x2="1227.14" y2="793.80" stroke="#000" stroke-width="2.4"/>
<circle cx="1214.39" cy="799.80" r="1.6" fill="#000"/>
<text transform="translate(1215.03,772.60) scale(1.03,1.1)" text-anchor="middle" style="font-family:'Liberation Serif',serif;font-weight:bold;font-size:28px">Cab</text>
<line x1="1251.07" y1="641.30" x2="1251.07" y2="644.30" stroke="#000" stroke-width="1.8"/>
<line x1="1251.07" y1="671.00" x2="1251.07" y2="683.70" stroke="#000" stroke-width="1.8"/>
<line x1="1243.67" y1="641.30" x2="1258.47" y2="641.30" stroke="#000" stroke-width="2.4" stroke-linecap="round"/>
<line x1="1243.67" y1="683.70" x2="1258.47" y2="683.70" stroke="#000" stroke-width="2.4" stroke-linecap="round"/>
<rect x="1238.32" y="645.25" width="25.50" height="24.80" fill="#FFC316" stroke="#000" stroke-width="1.9" rx="0.8"/>
<line x1="1238.32" y1="646.10" x2="1263.82" y2="646.10" stroke="#000" stroke-width="2.4"/>
<circle cx="1251.07" cy="657.90" r="1.6" fill="#000"/>
<text transform="translate(1251.73,633.70) scale(1.03,1.1)" text-anchor="middle" style="font-family:'Liberation Serif',serif;font-weight:bold;font-size:28px">Aa</text>
<line x1="1287.76" y1="734.50" x2="1287.76" y2="736.90" stroke="#000" stroke-width="1.8"/>
<line x1="1287.76" y1="751.40" x2="1287.76" y2="757.70" stroke="#000" stroke-width="1.8"/>
<line x1="1280.36" y1="734.50" x2="1295.16" y2="734.50" stroke="#000" stroke-width="2.4" stroke-linecap="round"/>
<line x1="1280.36" y1="757.70" x2="1295.16" y2="757.70" stroke="#000" stroke-width="2.4" stroke-linecap="round"/>
<rect x="1275.01" y="737.85" width="25.50" height="12.60" fill="#3CC473" stroke="#000" stroke-width="1.9" rx="0.8"/>
<line x1="1275.01" y1="738.70" x2="1300.51" y2="738.70" stroke="#000" stroke-width="2.4"/>
<circle cx="1287.76" cy="744.20" r="1.6" fill="#000"/>
<text transform="translate(1288.43,726.00) scale(1.03,1.1)" text-anchor="middle" style="font-family:'Liberation Serif',serif;font-weight:bold;font-size:28px">Bb</text>
<line x1="1350.01" y1="809.30" x2="1350.01" y2="821.70" stroke="#000" stroke-width="1.8"/>
<line x1="1350.01" y1="852.10" x2="1350.01" y2="861.40" stroke="#000" stroke-width="1.8"/>
<line x1="1342.61" y1="809.30" x2="1357.41" y2="809.30" stroke="#000" stroke-width="2.4" stroke-linecap="round"/>
<line x1="1342.61" y1="861.40" x2="1357.41" y2="861.40" stroke="#000" stroke-width="2.4" stroke-linecap="round"/>
<rect x="1337.26" y="822.65" width="25.50" height="28.50" fill="#EE0000" stroke="#000" stroke-width="1.9" rx="0.8"/>
<line x1="1337.26" y1="839.80" x2="1362.76" y2="839.80" stroke="#000" stroke-width="2.4"/>
<circle cx="1350.01" cy="837.00" r="1.6" fill="#000"/>
<text transform="translate(1350.74,802.20) scale(1.03,1.1)" text-anchor="middle" style="font-family:'Liberation Serif',serif;font-weight:bold;font-size:28px">Ca</text>
<line x1="1386.70" y1="745.20" x2="1386.70" y2="749.80" stroke="#000" stroke-width="1.8"/>
<line x1="1386.70" y1="763.40" x2="1386.70" y2="768.70" stroke="#000" stroke-width="1.8"/>
<line x1="1379.30" y1="745.20" x2="1394.10" y2="745.20" stroke="#000" stroke-width="2.4" stroke-linecap="round"/>
<line x1="1379.30" y1="768.70" x2="1394.10" y2="768.70" stroke="#000" stroke-width="2.4" stroke-linecap="round"/>
<rect x="1373.95" y="750.75" width="25.50" height="11.70" fill="#336699" stroke="#000" stroke-width="1.9" rx="0.8"/>
<line x1="1373.95" y1="756.00" x2="1399.45" y2="756.00" stroke="#000" stroke-width="2.4"/>
<circle cx="1386.70" cy="756.30" r="1.6" fill="#000"/>
<text transform="translate(1387.44,737.50) scale(1.03,1.1)" text-anchor="middle" style="font-family:'Liberation Serif',serif;font-weight:bold;font-size:28px">Ba</text>
<line x1="1423.39" y1="647.50" x2="1423.39" y2="650.50" stroke="#000" stroke-width="1.8"/>
<line x1="1423.39" y1="694.70" x2="1423.39" y2="716.10" stroke="#000" stroke-width="1.8"/>
<line x1="1415.99" y1="647.50" x2="1430.79" y2="647.50" stroke="#000" stroke-width="2.4" stroke-linecap="round"/>
<line x1="1415.99" y1="716.10" x2="1430.79" y2="716.10" stroke="#000" stroke-width="2.4" stroke-linecap="round"/>
<rect x="1410.64" y="651.45" width="25.50" height="42.30" fill="#FFC316" stroke="#000" stroke-width="1.9" rx="0.8"/>
<line x1="1410.64" y1="653.00" x2="1436.14" y2="653.00" stroke="#000" stroke-width="2.4"/>
<circle cx="1423.39" cy="672.70" r="1.6" fill="#000"/>
<text transform="translate(1424.14,640.10) scale(1.03,1.1)" text-anchor="middle" style="font-family:'Liberation Serif',serif;font-weight:bold;font-size:28px">Aa</text>
<line x1="1460.07" y1="631.40" x2="1460.07" y2="646.60" stroke="#000" stroke-width="1.8"/>
<line x1="1460.07" y1="679.50" x2="1460.07" y2="686.30" stroke="#000" stroke-width="1.8"/>
<line x1="1452.67" y1="631.40" x2="1467.47" y2="631.40" stroke="#000" stroke-width="2.4" stroke-linecap="round"/>
<line x1="1452.67" y1="686.30" x2="1467.47" y2="686.30" stroke="#000" stroke-width="2.4" stroke-linecap="round"/>
<rect x="1447.32" y="647.55" width="25.50" height="31.00" fill="#3CC473" stroke="#000" stroke-width="1.9" rx="0.8"/>
<line x1="1447.32" y1="671.30" x2="1472.82" y2="671.30" stroke="#000" stroke-width="2.4"/>
<circle cx="1460.07" cy="663.10" r="1.6" fill="#000"/>
<text transform="translate(1460.84,623.80) scale(1.03,1.1)" text-anchor="middle" style="font-family:'Liberation Serif',serif;font-weight:bold;font-size:28px">Aa</text>
<rect x="112.70" y="570.80" width="1378.50" height="481.50" fill="none" stroke="#000" stroke-width="2.2"/>
<line x1="109.20" y1="955.60" x2="112.70" y2="955.60" stroke="#000" stroke-width="2"/>
<line x1="106.20" y1="926.00" x2="112.70" y2="926.00" stroke="#000" stroke-width="2"/>
<text transform="translate(102.8,936.40) scale(1,1.065)" text-anchor="end" style="font-family:'Liberation Serif',serif;font-weight:bold;font-size:34px">50</text>
<line x1="109.20" y1="896.40" x2="112.70" y2="896.40" stroke="#000" stroke-width="2"/>
<line x1="106.20" y1="866.80" x2="112.70" y2="866.80" stroke="#000" stroke-width="2"/>
<text transform="translate(102.8,877.20) scale(1,1.065)" text-anchor="end" style="font-family:'Liberation Serif',serif;font-weight:bold;font-size:34px">60</text>
<line x1="109.20" y1="837.20" x2="112.70" y2="837.20" stroke="#000" stroke-width="2"/>
<line x1="106.20" y1="807.60" x2="112.70" y2="807.60" stroke="#000" stroke-width="2"/>
<text transform="translate(102.8,818.00) scale(1,1.065)" text-anchor="end" style="font-family:'Liberation Serif',serif;font-weight:bold;font-size:34px">70</text>
<line x1="109.20" y1="778.00" x2="112.70" y2="778.00" stroke="#000" stroke-width="2"/>
<line x1="106.20" y1="748.40" x2="112.70" y2="748.40" stroke="#000" stroke-width="2"/>
<text transform="translate(102.8,758.80) scale(1,1.065)" text-anchor="end" style="font-family:'Liberation Serif',serif;font-weight:bold;font-size:34px">80</text>
<line x1="109.20" y1="718.80" x2="112.70" y2="718.80" stroke="#000" stroke-width="2"/>
<line x1="106.20" y1="689.20" x2="112.70" y2="689.20" stroke="#000" stroke-width="2"/>
<text transform="translate(102.8,699.60) scale(1,1.065)" text-anchor="end" style="font-family:'Liberation Serif',serif;font-weight:bold;font-size:34px">90</text>
<line x1="109.20" y1="659.60" x2="112.70" y2="659.60" stroke="#000" stroke-width="2"/>
<line x1="106.20" y1="630.00" x2="112.70" y2="630.00" stroke="#000" stroke-width="2"/>
<text transform="translate(102.8,640.40) scale(1,1.065)" text-anchor="end" style="font-family:'Liberation Serif',serif;font-weight:bold;font-size:34px">100</text>
<line x1="109.20" y1="600.40" x2="112.70" y2="600.40" stroke="#000" stroke-width="2"/>
<line x1="106.20" y1="570.80" x2="112.70" y2="570.80" stroke="#000" stroke-width="2"/>
<text transform="translate(102.8,581.20) scale(1,1.065)" text-anchor="end" style="font-family:'Liberation Serif',serif;font-weight:bold;font-size:34px">110</text>
<line x1="106.20" y1="1052.30" x2="112.70" y2="1052.30" stroke="#000" stroke-width="2"/>
<text transform="translate(102.8,1062.70) scale(1,1.065)" text-anchor="end" style="font-family:'Liberation Serif',serif;font-weight:bold;font-size:34px">0</text>
<line x1="109.20" y1="1022.80" x2="112.70" y2="1022.80" stroke="#000" stroke-width="2"/>
<text x="138.2" y="980.0" style="font-family:'Liberation Serif',serif;font-size:33px">F: <tspan style="stroke:#000;stroke-width:0.5px">**</tspan></text>
<text x="235.3" y="980.0" style="font-family:'Liberation Serif',serif;font-size:33px">N: <tspan style="stroke:#000;stroke-width:0.5px">**</tspan></text>
<text x="391.8" y="980.0" style="font-family:'Liberation Serif',serif;font-size:33px">F × N: <tspan style="stroke:#000;stroke-width:0.5px">*</tspan></text>
<text x="558.3" y="980.0" style="font-family:'Liberation Serif',serif;font-size:33px">F × S × N: <tspan style="stroke:#000;stroke-width:0.5px">*</tspan></text>
<text x="138.2" y="1035.6" style="font-family:'Liberation Serif',serif;font-size:33px">S: <tspan style="stroke:#000;stroke-width:0.5px">**</tspan></text>
<text x="235.3" y="1035.6" style="font-family:'Liberation Serif',serif;font-size:33px">F × S: <tspan style="stroke:#000;stroke-width:0.5px">**</tspan></text>
<text x="389.6" y="1035.6" style="font-family:'Liberation Serif',serif;font-size:33px">S × N: <tspan style="stroke:#000;stroke-width:0.5px">**</tspan></text>
<text transform="translate(39.9,811.5) rotate(-90)" text-anchor="middle" xml:space="preserve" textLength="266" lengthAdjust="spacing" style="font-family:'Liberation Serif',serif;font-weight:bold;font-size:40px"><tspan>POD (U g</tspan><tspan dy="-16" style="font-size:25px">-1</tspan><tspan dy="16"> FW)</tspan></text>
<rect x="109.7" y="983.5" width="6" height="10.5" fill="#fff"/>
<line x1="107.2" y1="993.2" x2="116.5" y2="979" stroke="#000" stroke-width="2"/>
<line x1="107.2" y1="1001.5" x2="116.5" y2="987.3" stroke="#000" stroke-width="2"/>
<rect x="1488.2" y="983.5" width="6" height="10.5" fill="#fff"/>
<line x1="1485.7" y1="993.2" x2="1495.0" y2="979" stroke="#000" stroke-width="2"/>
<line x1="1485.7" y1="1001.5" x2="1495.0" y2="987.3" stroke="#000" stroke-width="2"/>
<rect x="285.16" y="1088.60" width="172.16" height="497.30" fill="#F0F0F0"/>
<rect x="457.32" y="1088.60" width="172.16" height="497.30" fill="#D9D9D9"/>
<rect x="629.49" y="1088.60" width="172.16" height="497.30" fill="#C0C0C0"/>
<rect x="973.81" y="1088.60" width="172.16" height="497.30" fill="#F0F0F0"/>
<rect x="1145.97" y="1088.60" width="172.16" height="497.30" fill="#D9D9D9"/>
<rect x="1318.14" y="1088.60" width="170.26" height="497.30" fill="#C0C0C0"/>
<line x1="801.70" y1="1587.70" x2="801.70" y2="1086.80" stroke="#000" stroke-width="2.3" stroke-dasharray="12.75,12.55"/>
<line x1="144.10" y1="1336.30" x2="144.10" y2="1340.00" stroke="#000" stroke-width="1.8"/>
<line x1="144.10" y1="1357.60" x2="144.10" y2="1364.80" stroke="#000" stroke-width="1.8"/>
<line x1="136.70" y1="1336.30" x2="151.50" y2="1336.30" stroke="#000" stroke-width="2.4" stroke-linecap="round"/>
<line x1="136.70" y1="1364.80" x2="151.50" y2="1364.80" stroke="#000" stroke-width="2.4" stroke-linecap="round"/>
<rect x="131.35" y="1340.95" width="25.50" height="15.70" fill="#EE0000" stroke="#000" stroke-width="1.9" rx="0.8"/>
<line x1="131.35" y1="1346.00" x2="156.85" y2="1346.00" stroke="#000" stroke-width="2.4"/>
<circle cx="144.10" cy="1348.90" r="1.6" fill="#000"/>
<text transform="translate(144.14,1328.90) scale(1.03,1.1)" text-anchor="middle" style="font-family:'Liberation Serif',serif;font-weight:bold;font-size:28px">Bb</text>
<line x1="180.75" y1="1329.20" x2="180.75" y2="1337.40" stroke="#000" stroke-width="1.8"/>
<line x1="180.75" y1="1356.40" x2="180.75" y2="1361.50" stroke="#000" stroke-width="1.8"/>
<line x1="173.35" y1="1329.20" x2="188.15" y2="1329.20" stroke="#000" stroke-width="2.4" stroke-linecap="round"/>
<line x1="173.35" y1="1361.50" x2="188.15" y2="1361.50" stroke="#000" stroke-width="2.4" stroke-linecap="round"/>
<rect x="168.00" y="1338.35" width="25.50" height="17.10" fill="#336699" stroke="#000" stroke-width="1.9" rx="0.8"/>
<line x1="168.00" y1="1349.50" x2="193.50" y2="1349.50" stroke="#000" stroke-width="2.4"/>
<circle cx="180.75" cy="1346.60" r="1.6" fill="#000"/>
<text transform="translate(180.84,1320.80) scale(1.03,1.1)" text-anchor="middle" style="font-family:'Liberation Serif',serif;font-weight:bold;font-size:28px">Bc</text>
<line x1="217.41" y1="1278.00" x2="217.41" y2="1297.90" stroke="#000" stroke-width="1.8"/>
<line x1="217.41" y1="1338.60" x2="217.41" y2="1342.30" stroke="#000" stroke-width="1.8"/>
<line x1="210.01" y1="1278.00" x2="224.81" y2="1278.00" stroke="#000" stroke-width="2.4" stroke-linecap="round"/>
<line x1="210.01" y1="1342.30" x2="224.81" y2="1342.30" stroke="#000" stroke-width="2.4" stroke-linecap="round"/>
<rect x="204.66" y="1298.85" width="25.50" height="38.80" fill="#FFC316" stroke="#000" stroke-width="1.9" rx="0.8"/>
<line x1="204.66" y1="1334.60" x2="230.16" y2="1334.60" stroke="#000" stroke-width="2.4"/>
<circle cx="217.41" cy="1318.20" r="1.6" fill="#000"/>
<text transform="translate(213.54,1269.80) scale(1.03,1.1)" text-anchor="middle" style="font-family:'Liberation Serif',serif;font-weight:bold;font-size:28px">ABc</text>
<line x1="254.06" y1="1258.50" x2="254.06" y2="1271.10" stroke="#000" stroke-width="1.8"/>
<line x1="254.06" y1="1296.70" x2="254.06" y2="1303.00" stroke="#000" stroke-width="1.8"/>
<line x1="246.66" y1="1258.50" x2="261.46" y2="1258.50" stroke="#000" stroke-width="2.4" stroke-linecap="round"/>
<line x1="246.66" y1="1303.00" x2="261.46" y2="1303.00" stroke="#000" stroke-width="2.4" stroke-linecap="round"/>
<rect x="241.31" y="1272.05" width="25.50" height="23.70" fill="#3CC473" stroke="#000" stroke-width="1.9" rx="0.8"/>
<line x1="241.31" y1="1291.00" x2="266.81" y2="1291.00" stroke="#000" stroke-width="2.4"/>
<circle cx="254.06" cy="1284.10" r="1.6" fill="#000"/>
<text transform="translate(257.24,1250.30) scale(1.03,1.1)" text-anchor="middle" style="font-family:'Liberation Serif',serif;font-weight:bold;font-size:28px">Aab</text>
<line x1="316.26" y1="1316.30" x2="316.26" y2="1324.70" stroke="#000" stroke-width="1.8"/>
<line x1="316.26" y1="1348.80" x2="316.26" y2="1357.40" stroke="#000" stroke-width="1.8"/>
<line x1="308.86" y1="1316.30" x2="323.66" y2="1316.30" stroke="#000" stroke-width="2.4" stroke-linecap="round"/>
<line x1="308.86" y1="1357.40" x2="323.66" y2="1357.40" stroke="#000" stroke-width="2.4" stroke-linecap="round"/>
<rect x="303.51" y="1325.65" width="25.50" height="22.20" fill="#EE0000" stroke="#000" stroke-width="1.9" rx="0.8"/>
<line x1="303.51" y1="1336.90" x2="329.01" y2="1336.90" stroke="#000" stroke-width="2.4"/>
<circle cx="316.26" cy="1336.70" r="1.6" fill="#000"/>
<text transform="translate(319.51,1309.50) scale(1.03,1.1)" text-anchor="middle" style="font-family:'Liberation Serif',serif;font-weight:bold;font-size:28px">Bab</text>
<line x1="352.92" y1="1314.30" x2="352.92" y2="1316.60" stroke="#000" stroke-width="1.8"/>
<line x1="352.92" y1="1330.70" x2="352.92" y2="1336.90" stroke="#000" stroke-width="1.8"/>
<line x1="345.52" y1="1314.30" x2="360.32" y2="1314.30" stroke="#000" stroke-width="2.4" stroke-linecap="round"/>
<line x1="345.52" y1="1336.90" x2="360.32" y2="1336.90" stroke="#000" stroke-width="2.4" stroke-linecap="round"/>
<rect x="340.17" y="1317.55" width="25.50" height="12.20" fill="#336699" stroke="#000" stroke-width="1.9" rx="0.8"/>
<line x1="340.17" y1="1318.40" x2="365.67" y2="1318.40" stroke="#000" stroke-width="2.4"/>
<circle cx="352.92" cy="1323.50" r="1.6" fill="#000"/>
<text transform="translate(356.71,1293.50) scale(1.03,1.1)" text-anchor="middle" style="font-family:'Liberation Serif',serif;font-weight:bold;font-size:28px">Bc</text>
<line x1="389.57" y1="1269.00" x2="389.57" y2="1273.40" stroke="#000" stroke-width="1.8"/>
<line x1="389.57" y1="1295.40" x2="389.57" y2="1305.20" stroke="#000" stroke-width="1.8"/>
<line x1="382.17" y1="1269.00" x2="396.97" y2="1269.00" stroke="#000" stroke-width="2.4" stroke-linecap="round"/>
<line x1="382.17" y1="1305.20" x2="396.97" y2="1305.20" stroke="#000" stroke-width="2.4" stroke-linecap="round"/>
<rect x="376.82" y="1274.35" width="25.50" height="20.10" fill="#FFC316" stroke="#000" stroke-width="1.9" rx="0.8"/>
<line x1="376.82" y1="1278.80" x2="402.32" y2="1278.80" stroke="#000" stroke-width="2.4"/>
<circle cx="389.57" cy="1284.50" r="1.6" fill="#000"/>
<text transform="translate(392.71,1262.70) scale(1.03,1.1)" text-anchor="middle" style="font-family:'Liberation Serif',serif;font-weight:bold;font-size:28px">Abc</text>
<line x1="426.23" y1="1293.90" x2="426.23" y2="1296.60" stroke="#000" stroke-width="1.8"/>
<line x1="426.23" y1="1325.80" x2="426.23" y2="1339.90" stroke="#000" stroke-width="1.8"/>
<line x1="418.83" y1="1293.90" x2="433.63" y2="1293.90" stroke="#000" stroke-width="2.4" stroke-linecap="round"/>
<line x1="418.83" y1="1339.90" x2="433.63" y2="1339.90" stroke="#000" stroke-width="2.4" stroke-linecap="round"/>
<rect x="413.48" y="1297.55" width="25.50" height="27.30" fill="#3CC473" stroke="#000" stroke-width="1.9" rx="0.8"/>
<line x1="413.48" y1="1298.80" x2="438.98" y2="1298.80" stroke="#000" stroke-width="2.4"/>
<circle cx="426.23" cy="1311.50" r="1.6" fill="#000"/>
<text transform="translate(430.21,1286.80) scale(1.03,1.1)" text-anchor="middle" style="font-family:'Liberation Serif',serif;font-weight:bold;font-size:28px">ABb</text>
<line x1="488.42" y1="1294.50" x2="488.42" y2="1298.60" stroke="#000" stroke-width="1.8"/>
<line x1="488.42" y1="1308.90" x2="488.42" y2="1312.30" stroke="#000" stroke-width="1.8"/>
<line x1="481.02" y1="1294.50" x2="495.82" y2="1294.50" stroke="#000" stroke-width="2.4" stroke-linecap="round"/>
<line x1="481.02" y1="1312.30" x2="495.82" y2="1312.30" stroke="#000" stroke-width="2.4" stroke-linecap="round"/>
<rect x="475.67" y="1299.55" width="25.50" height="8.40" fill="#EE0000" stroke="#000" stroke-width="1.9" rx="0.8"/>
<line x1="475.67" y1="1305.20" x2="501.17" y2="1305.20" stroke="#000" stroke-width="2.4"/>
<circle cx="488.42" cy="1304.30" r="1.6" fill="#000"/>
<text transform="translate(488.89,1286.00) scale(1.03,1.1)" text-anchor="middle" style="font-family:'Liberation Serif',serif;font-weight:bold;font-size:28px">Ca</text>
<line x1="525.08" y1="1215.10" x2="525.08" y2="1220.50" stroke="#000" stroke-width="1.8"/>
<line x1="525.08" y1="1242.30" x2="525.08" y2="1252.10" stroke="#000" stroke-width="1.8"/>
<line x1="517.68" y1="1215.10" x2="532.48" y2="1215.10" stroke="#000" stroke-width="2.4" stroke-linecap="round"/>
<line x1="517.68" y1="1252.10" x2="532.48" y2="1252.10" stroke="#000" stroke-width="2.4" stroke-linecap="round"/>
<rect x="512.33" y="1221.45" width="25.50" height="19.90" fill="#336699" stroke="#000" stroke-width="1.9" rx="0.8"/>
<line x1="512.33" y1="1226.80" x2="537.83" y2="1226.80" stroke="#000" stroke-width="2.4"/>
<circle cx="525.08" cy="1231.40" r="1.6" fill="#000"/>
<text transform="translate(525.59,1206.80) scale(1.03,1.1)" text-anchor="middle" style="font-family:'Liberation Serif',serif;font-weight:bold;font-size:28px">Ba</text>
<line x1="561.73" y1="1120.70" x2="561.73" y2="1136.40" stroke="#000" stroke-width="1.8"/>
<line x1="561.73" y1="1179.60" x2="561.73" y2="1194.50" stroke="#000" stroke-width="1.8"/>
<line x1="554.33" y1="1120.70" x2="569.13" y2="1120.70" stroke="#000" stroke-width="2.4" stroke-linecap="round"/>
<line x1="554.33" y1="1194.50" x2="569.13" y2="1194.50" stroke="#000" stroke-width="2.4" stroke-linecap="round"/>
<rect x="548.98" y="1137.35" width="25.50" height="41.30" fill="#FFC316" stroke="#000" stroke-width="1.9" rx="0.8"/>
<line x1="548.98" y1="1158.20" x2="574.48" y2="1158.20" stroke="#000" stroke-width="2.4"/>
<circle cx="561.73" cy="1157.40" r="1.6" fill="#000"/>
<text transform="translate(562.29,1112.70) scale(1.03,1.1)" text-anchor="middle" style="font-family:'Liberation Serif',serif;font-weight:bold;font-size:28px">Aa</text>
<line x1="598.39" y1="1210.50" x2="598.39" y2="1224.30" stroke="#000" stroke-width="1.8"/>
<line x1="598.39" y1="1265.30" x2="598.39" y2="1279.90" stroke="#000" stroke-width="1.8"/>
<line x1="590.99" y1="1210.50" x2="605.79" y2="1210.50" stroke="#000" stroke-width="2.4" stroke-linecap="round"/>
<line x1="590.99" y1="1279.90" x2="605.79" y2="1279.90" stroke="#000" stroke-width="2.4" stroke-linecap="round"/>
<rect x="585.64" y="1225.25" width="25.50" height="39.10" fill="#3CC473" stroke="#000" stroke-width="1.9" rx="0.8"/>
<line x1="585.64" y1="1242.90" x2="611.14" y2="1242.90" stroke="#000" stroke-width="2.4"/>
<circle cx="598.39" cy="1244.60" r="1.6" fill="#000"/>
<text transform="translate(598.99,1202.20) scale(1.03,1.1)" text-anchor="middle" style="font-family:'Liberation Serif',serif;font-weight:bold;font-size:28px">Ba</text>
<line x1="660.59" y1="1300.60" x2="660.59" y2="1310.60" stroke="#000" stroke-width="1.8"/>
<line x1="660.59" y1="1335.40" x2="660.59" y2="1344.60" stroke="#000" stroke-width="1.8"/>
<line x1="653.19" y1="1300.60" x2="667.99" y2="1300.60" stroke="#000" stroke-width="2.4" stroke-linecap="round"/>
<line x1="653.19" y1="1344.60" x2="667.99" y2="1344.60" stroke="#000" stroke-width="2.4" stroke-linecap="round"/>
<rect x="647.84" y="1311.55" width="25.50" height="22.90" fill="#EE0000" stroke="#000" stroke-width="1.9" rx="0.8"/>
<line x1="647.84" y1="1324.10" x2="673.34" y2="1324.10" stroke="#000" stroke-width="2.4"/>
<circle cx="660.59" cy="1323.30" r="1.6" fill="#000"/>
<text transform="translate(656.66,1293.30) scale(1.03,1.1)" text-anchor="middle" style="font-family:'Liberation Serif',serif;font-weight:bold;font-size:28px">Bab</text>
<line x1="697.24" y1="1269.60" x2="697.24" y2="1275.60" stroke="#000" stroke-width="1.8"/>
<line x1="697.24" y1="1300.80" x2="697.24" y2="1312.10" stroke="#000" stroke-width="1.8"/>
<line x1="689.84" y1="1269.60" x2="704.64" y2="1269.60" stroke="#000" stroke-width="2.4" stroke-linecap="round"/>
<line x1="689.84" y1="1312.10" x2="704.64" y2="1312.10" stroke="#000" stroke-width="2.4" stroke-linecap="round"/>
<rect x="684.49" y="1276.55" width="25.50" height="23.30" fill="#336699" stroke="#000" stroke-width="1.9" rx="0.8"/>
<line x1="684.49" y1="1281.70" x2="709.99" y2="1281.70" stroke="#000" stroke-width="2.4"/>
<circle cx="697.24" cy="1288.10" r="1.6" fill="#000"/>
<text transform="translate(689.96,1261.00) scale(1.03,1.1)" text-anchor="middle" style="font-family:'Liberation Serif',serif;font-weight:bold;font-size:28px">ABb</text>
<line x1="733.90" y1="1249.40" x2="733.90" y2="1253.20" stroke="#000" stroke-width="1.8"/>
<line x1="733.90" y1="1265.60" x2="733.90" y2="1270.80" stroke="#000" stroke-width="1.8"/>
<line x1="726.50" y1="1249.40" x2="741.30" y2="1249.40" stroke="#000" stroke-width="2.4" stroke-linecap="round"/>
<line x1="726.50" y1="1270.80" x2="741.30" y2="1270.80" stroke="#000" stroke-width="2.4" stroke-linecap="round"/>
<rect x="721.15" y="1254.15" width="25.50" height="10.50" fill="#FFC316" stroke="#000" stroke-width="1.9" rx="0.8"/>
<line x1="721.15" y1="1255.60" x2="746.65" y2="1255.60" stroke="#000" stroke-width="2.4"/>
<circle cx="733.90" cy="1259.20" r="1.6" fill="#000"/>
<text transform="translate(732.66,1240.80) scale(1.03,1.1)" text-anchor="middle" style="font-family:'Liberation Serif',serif;font-weight:bold;font-size:28px">Ab</text>
<line x1="770.55" y1="1219.10" x2="770.55" y2="1235.20" stroke="#000" stroke-width="1.8"/>
<line x1="770.55" y1="1269.10" x2="770.55" y2="1275.40" stroke="#000" stroke-width="1.8"/>
<line x1="763.15" y1="1219.10" x2="777.95" y2="1219.10" stroke="#000" stroke-width="2.4" stroke-linecap="round"/>
<line x1="763.15" y1="1275.40" x2="777.95" y2="1275.40" stroke="#000" stroke-width="2.4" stroke-linecap="round"/>
<rect x="757.80" y="1236.15" width="25.50" height="32.00" fill="#3CC473" stroke="#000" stroke-width="1.9" rx="0.8"/>
<line x1="757.80" y1="1262.70" x2="783.30" y2="1262.70" stroke="#000" stroke-width="2.4"/>
<circle cx="770.55" cy="1252.30" r="1.6" fill="#000"/>
<text transform="translate(771.36,1211.40) scale(1.03,1.1)" text-anchor="middle" style="font-family:'Liberation Serif',serif;font-weight:bold;font-size:28px">Aa</text>
<line x1="832.75" y1="1365.30" x2="832.75" y2="1372.80" stroke="#000" stroke-width="1.8"/>
<line x1="832.75" y1="1390.60" x2="832.75" y2="1396.30" stroke="#000" stroke-width="1.8"/>
<line x1="825.35" y1="1365.30" x2="840.15" y2="1365.30" stroke="#000" stroke-width="2.4" stroke-linecap="round"/>
<line x1="825.35" y1="1396.30" x2="840.15" y2="1396.30" stroke="#000" stroke-width="2.4" stroke-linecap="round"/>
<rect x="820.00" y="1373.75" width="25.50" height="15.90" fill="#EE0000" stroke="#000" stroke-width="1.9" rx="0.8"/>
<line x1="820.00" y1="1383.70" x2="845.50" y2="1383.70" stroke="#000" stroke-width="2.4"/>
<circle cx="832.75" cy="1382.00" r="1.6" fill="#000"/>
<text transform="translate(833.64,1357.90) scale(1.03,1.1)" text-anchor="middle" style="font-family:'Liberation Serif',serif;font-weight:bold;font-size:28px">Cb</text>
<line x1="869.40" y1="1333.80" x2="869.40" y2="1334.90" stroke="#000" stroke-width="1.8"/>
<line x1="869.40" y1="1343.00" x2="869.40" y2="1345.20" stroke="#000" stroke-width="1.8"/>
<line x1="862.00" y1="1333.80" x2="876.80" y2="1333.80" stroke="#000" stroke-width="2.4" stroke-linecap="round"/>
<line x1="862.00" y1="1345.20" x2="876.80" y2="1345.20" stroke="#000" stroke-width="2.4" stroke-linecap="round"/>
<rect x="856.65" y="1335.85" width="25.50" height="6.20" fill="#336699" stroke="#000" stroke-width="1.9" rx="0.8"/>
<line x1="856.65" y1="1336.60" x2="882.15" y2="1336.60" stroke="#000" stroke-width="2.4"/>
<circle cx="869.40" cy="1340.10" r="1.6" fill="#000"/>
<text transform="translate(870.34,1326.30) scale(1.03,1.1)" text-anchor="middle" style="font-family:'Liberation Serif',serif;font-weight:bold;font-size:28px">Bb</text>
<line x1="906.06" y1="1249.40" x2="906.06" y2="1254.00" stroke="#000" stroke-width="1.8"/>
<line x1="906.06" y1="1286.10" x2="906.06" y2="1301.60" stroke="#000" stroke-width="1.8"/>
<line x1="898.66" y1="1249.40" x2="913.46" y2="1249.40" stroke="#000" stroke-width="2.4" stroke-linecap="round"/>
<line x1="898.66" y1="1301.60" x2="913.46" y2="1301.60" stroke="#000" stroke-width="2.4" stroke-linecap="round"/>
<rect x="893.31" y="1254.95" width="25.50" height="30.20" fill="#FFC316" stroke="#000" stroke-width="1.9" rx="0.8"/>
<line x1="893.31" y1="1258.80" x2="918.81" y2="1258.80" stroke="#000" stroke-width="2.4"/>
<circle cx="906.06" cy="1270.10" r="1.6" fill="#000"/>
<text transform="translate(907.04,1242.60) scale(1.03,1.1)" text-anchor="middle" style="font-family:'Liberation Serif',serif;font-weight:bold;font-size:28px">Aa</text>
<line x1="942.71" y1="1306.80" x2="942.71" y2="1312.50" stroke="#000" stroke-width="1.8"/>
<line x1="942.71" y1="1329.20" x2="942.71" y2="1334.60" stroke="#000" stroke-width="1.8"/>
<line x1="935.31" y1="1306.80" x2="950.11" y2="1306.80" stroke="#000" stroke-width="2.4" stroke-linecap="round"/>
<line x1="935.31" y1="1334.60" x2="950.11" y2="1334.60" stroke="#000" stroke-width="2.4" stroke-linecap="round"/>
<rect x="929.96" y="1313.45" width="25.50" height="14.80" fill="#3CC473" stroke="#000" stroke-width="1.9" rx="0.8"/>
<line x1="929.96" y1="1320.00" x2="955.46" y2="1320.00" stroke="#000" stroke-width="2.4"/>
<circle cx="942.71" cy="1321.90" r="1.6" fill="#000"/>
<text transform="translate(943.74,1299.90) scale(1.03,1.1)" text-anchor="middle" style="font-family:'Liberation Serif',serif;font-weight:bold;font-size:28px">Bb</text>
<line x1="1004.91" y1="1324.10" x2="1004.91" y2="1327.20" stroke="#000" stroke-width="1.8"/>
<line x1="1004.91" y1="1344.30" x2="1004.91" y2="1352.30" stroke="#000" stroke-width="1.8"/>
<line x1="997.51" y1="1324.10" x2="1012.31" y2="1324.10" stroke="#000" stroke-width="2.4" stroke-linecap="round"/>
<line x1="997.51" y1="1352.30" x2="1012.31" y2="1352.30" stroke="#000" stroke-width="2.4" stroke-linecap="round"/>
<rect x="992.16" y="1328.15" width="25.50" height="15.20" fill="#EE0000" stroke="#000" stroke-width="1.9" rx="0.8"/>
<line x1="992.16" y1="1329.80" x2="1017.66" y2="1329.80" stroke="#000" stroke-width="2.4"/>
<circle cx="1004.91" cy="1336.20" r="1.6" fill="#000"/>
<text transform="translate(1003.01,1316.00) scale(1.03,1.1)" text-anchor="middle" style="font-family:'Liberation Serif',serif;font-weight:bold;font-size:28px">Ca</text>
<line x1="1041.57" y1="1280.60" x2="1041.57" y2="1288.60" stroke="#000" stroke-width="1.8"/>
<line x1="1041.57" y1="1313.30" x2="1041.57" y2="1323.30" stroke="#000" stroke-width="1.8"/>
<line x1="1034.17" y1="1280.60" x2="1048.97" y2="1280.60" stroke="#000" stroke-width="2.4" stroke-linecap="round"/>
<line x1="1034.17" y1="1323.30" x2="1048.97" y2="1323.30" stroke="#000" stroke-width="2.4" stroke-linecap="round"/>
<rect x="1028.82" y="1289.55" width="25.50" height="22.80" fill="#336699" stroke="#000" stroke-width="1.9" rx="0.8"/>
<line x1="1028.82" y1="1297.90" x2="1054.32" y2="1297.90" stroke="#000" stroke-width="2.4"/>
<circle cx="1041.57" cy="1300.40" r="1.6" fill="#000"/>
<text transform="translate(1036.71,1272.70) scale(1.03,1.1)" text-anchor="middle" style="font-family:'Liberation Serif',serif;font-weight:bold;font-size:28px">BCa</text>
<line x1="1078.22" y1="1273.90" x2="1078.22" y2="1277.90" stroke="#000" stroke-width="1.8"/>
<line x1="1078.22" y1="1288.90" x2="1078.22" y2="1292.90" stroke="#000" stroke-width="1.8"/>
<line x1="1070.82" y1="1273.90" x2="1085.62" y2="1273.90" stroke="#000" stroke-width="2.4" stroke-linecap="round"/>
<line x1="1070.82" y1="1292.90" x2="1085.62" y2="1292.90" stroke="#000" stroke-width="2.4" stroke-linecap="round"/>
<rect x="1065.47" y="1278.85" width="25.50" height="9.10" fill="#FFC316" stroke="#000" stroke-width="1.9" rx="0.8"/>
<line x1="1065.47" y1="1281.70" x2="1090.97" y2="1281.70" stroke="#000" stroke-width="2.4"/>
<circle cx="1078.22" cy="1284.80" r="1.6" fill="#000"/>
<text transform="translate(1079.41,1256.60) scale(1.03,1.1)" text-anchor="middle" style="font-family:'Liberation Serif',serif;font-weight:bold;font-size:28px">Ba</text>
<line x1="1114.88" y1="1202.90" x2="1114.88" y2="1218.20" stroke="#000" stroke-width="1.8"/>
<line x1="1114.88" y1="1252.50" x2="1114.88" y2="1261.20" stroke="#000" stroke-width="1.8"/>
<line x1="1107.48" y1="1202.90" x2="1122.28" y2="1202.90" stroke="#000" stroke-width="2.4" stroke-linecap="round"/>
<line x1="1107.48" y1="1261.20" x2="1122.28" y2="1261.20" stroke="#000" stroke-width="2.4" stroke-linecap="round"/>
<rect x="1102.13" y="1219.15" width="25.50" height="32.40" fill="#3CC473" stroke="#000" stroke-width="1.9" rx="0.8"/>
<line x1="1102.13" y1="1242.50" x2="1127.63" y2="1242.50" stroke="#000" stroke-width="2.4"/>
<circle cx="1114.88" cy="1235.60" r="1.6" fill="#000"/>
<text transform="translate(1116.11,1194.80) scale(1.03,1.1)" text-anchor="middle" style="font-family:'Liberation Serif',serif;font-weight:bold;font-size:28px">Aa</text>
<line x1="1177.07" y1="1357.40" x2="1177.07" y2="1365.20" stroke="#000" stroke-width="1.8"/>
<line x1="1177.07" y1="1384.20" x2="1177.07" y2="1384.20" stroke="#000" stroke-width="1.8"/>
<line x1="1169.67" y1="1357.40" x2="1184.47" y2="1357.40" stroke="#000" stroke-width="2.4" stroke-linecap="round"/>
<line x1="1169.67" y1="1384.20" x2="1184.47" y2="1384.20" stroke="#000" stroke-width="2.4" stroke-linecap="round"/>
<rect x="1164.32" y="1366.15" width="25.50" height="17.10" fill="#EE0000" stroke="#000" stroke-width="1.9" rx="0.8"/>
<line x1="1164.32" y1="1383.20" x2="1189.82" y2="1383.20" stroke="#000" stroke-width="2.4"/>
<circle cx="1177.07" cy="1374.40" r="1.6" fill="#000"/>
<text transform="translate(1178.39,1348.60) scale(1.03,1.1)" text-anchor="middle" style="font-family:'Liberation Serif',serif;font-weight:bold;font-size:28px">Bb</text>
<line x1="1213.73" y1="1262.90" x2="1213.73" y2="1275.50" stroke="#000" stroke-width="1.8"/>
<line x1="1213.73" y1="1303.80" x2="1213.73" y2="1311.10" stroke="#000" stroke-width="1.8"/>
<line x1="1206.33" y1="1262.90" x2="1221.13" y2="1262.90" stroke="#000" stroke-width="2.4" stroke-linecap="round"/>
<line x1="1206.33" y1="1311.10" x2="1221.13" y2="1311.10" stroke="#000" stroke-width="2.4" stroke-linecap="round"/>
<rect x="1200.98" y="1276.45" width="25.50" height="26.40" fill="#336699" stroke="#000" stroke-width="1.9" rx="0.8"/>
<line x1="1200.98" y1="1295.20" x2="1226.48" y2="1295.20" stroke="#000" stroke-width="2.4"/>
<circle cx="1213.73" cy="1289.50" r="1.6" fill="#000"/>
<text transform="translate(1215.09,1254.50) scale(1.03,1.1)" text-anchor="middle" style="font-family:'Liberation Serif',serif;font-weight:bold;font-size:28px">Aa</text>
<line x1="1250.38" y1="1250.50" x2="1250.38" y2="1252.20" stroke="#000" stroke-width="1.8"/>
<line x1="1250.38" y1="1289.70" x2="1250.38" y2="1308.40" stroke="#000" stroke-width="1.8"/>
<line x1="1242.98" y1="1250.50" x2="1257.78" y2="1250.50" stroke="#000" stroke-width="2.4" stroke-linecap="round"/>
<line x1="1242.98" y1="1308.40" x2="1257.78" y2="1308.40" stroke="#000" stroke-width="2.4" stroke-linecap="round"/>
<rect x="1237.63" y="1253.15" width="25.50" height="35.60" fill="#FFC316" stroke="#000" stroke-width="1.9" rx="0.8"/>
<line x1="1237.63" y1="1253.90" x2="1263.13" y2="1253.90" stroke="#000" stroke-width="2.4"/>
<circle cx="1250.38" cy="1271.10" r="1.6" fill="#000"/>
<text transform="translate(1251.79,1241.30) scale(1.03,1.1)" text-anchor="middle" style="font-family:'Liberation Serif',serif;font-weight:bold;font-size:28px">Aa</text>
<line x1="1287.04" y1="1235.00" x2="1287.04" y2="1243.00" stroke="#000" stroke-width="1.8"/>
<line x1="1287.04" y1="1261.00" x2="1287.04" y2="1262.00" stroke="#000" stroke-width="1.8"/>
<line x1="1279.64" y1="1235.00" x2="1294.44" y2="1235.00" stroke="#000" stroke-width="2.4" stroke-linecap="round"/>
<line x1="1279.64" y1="1262.00" x2="1294.44" y2="1262.00" stroke="#000" stroke-width="2.4" stroke-linecap="round"/>
<rect x="1274.29" y="1243.95" width="25.50" height="16.10" fill="#3CC473" stroke="#000" stroke-width="1.9" rx="0.8"/>
<line x1="1274.29" y1="1258.50" x2="1299.79" y2="1258.50" stroke="#000" stroke-width="2.4"/>
<circle cx="1287.04" cy="1251.40" r="1.6" fill="#000"/>
<text transform="translate(1288.49,1225.30) scale(1.03,1.1)" text-anchor="middle" style="font-family:'Liberation Serif',serif;font-weight:bold;font-size:28px">Aa</text>
<line x1="1349.24" y1="1343.50" x2="1349.24" y2="1343.80" stroke="#000" stroke-width="1.8"/>
<line x1="1349.24" y1="1350.20" x2="1349.24" y2="1351.80" stroke="#000" stroke-width="1.8"/>
<line x1="1341.84" y1="1343.50" x2="1356.64" y2="1343.50" stroke="#000" stroke-width="2.4" stroke-linecap="round"/>
<line x1="1341.84" y1="1351.80" x2="1356.64" y2="1351.80" stroke="#000" stroke-width="2.4" stroke-linecap="round"/>
<rect x="1336.49" y="1344.75" width="25.50" height="4.50" fill="#EE0000" stroke="#000" stroke-width="1.9" rx="0.8"/>
<line x1="1336.49" y1="1349.60" x2="1361.99" y2="1349.60" stroke="#000" stroke-width="2.4"/>
<circle cx="1349.24" cy="1349.60" r="1.6" fill="#000"/>
<text transform="translate(1350.76,1336.30) scale(1.03,1.1)" text-anchor="middle" style="font-family:'Liberation Serif',serif;font-weight:bold;font-size:28px">Ba</text>
<line x1="1385.89" y1="1287.90" x2="1385.89" y2="1297.50" stroke="#000" stroke-width="1.8"/>
<line x1="1385.89" y1="1317.90" x2="1385.89" y2="1317.90" stroke="#000" stroke-width="1.8"/>
<line x1="1378.49" y1="1287.90" x2="1393.29" y2="1287.90" stroke="#000" stroke-width="2.4" stroke-linecap="round"/>
<line x1="1378.49" y1="1317.90" x2="1393.29" y2="1317.90" stroke="#000" stroke-width="2.4" stroke-linecap="round"/>
<rect x="1373.14" y="1298.45" width="25.50" height="18.50" fill="#336699" stroke="#000" stroke-width="1.9" rx="0.8"/>
<line x1="1373.14" y1="1316.80" x2="1398.64" y2="1316.80" stroke="#000" stroke-width="2.4"/>
<circle cx="1385.89" cy="1307.40" r="1.6" fill="#000"/>
<text transform="translate(1379.46,1279.50) scale(1.03,1.1)" text-anchor="middle" style="font-family:'Liberation Serif',serif;font-weight:bold;font-size:28px">Aab</text>
<line x1="1422.55" y1="1261.70" x2="1422.55" y2="1273.80" stroke="#000" stroke-width="1.8"/>
<line x1="1422.55" y1="1312.80" x2="1422.55" y2="1329.40" stroke="#000" stroke-width="1.8"/>
<line x1="1415.15" y1="1261.70" x2="1429.95" y2="1261.70" stroke="#000" stroke-width="2.4" stroke-linecap="round"/>
<line x1="1415.15" y1="1329.40" x2="1429.95" y2="1329.40" stroke="#000" stroke-width="2.4" stroke-linecap="round"/>
<rect x="1409.80" y="1274.75" width="25.50" height="37.10" fill="#FFC316" stroke="#000" stroke-width="1.9" rx="0.8"/>
<line x1="1409.80" y1="1288.70" x2="1435.30" y2="1288.70" stroke="#000" stroke-width="2.4"/>
<circle cx="1422.55" cy="1293.60" r="1.6" fill="#000"/>
<text transform="translate(1424.16,1253.10) scale(1.03,1.1)" text-anchor="middle" style="font-family:'Liberation Serif',serif;font-weight:bold;font-size:28px">Aa</text>
<line x1="1459.20" y1="1284.70" x2="1459.20" y2="1292.50" stroke="#000" stroke-width="1.8"/>
<line x1="1459.20" y1="1308.50" x2="1459.20" y2="1311.10" stroke="#000" stroke-width="1.8"/>
<line x1="1451.80" y1="1284.70" x2="1466.60" y2="1284.70" stroke="#000" stroke-width="2.4" stroke-linecap="round"/>
<line x1="1451.80" y1="1311.10" x2="1466.60" y2="1311.10" stroke="#000" stroke-width="2.4" stroke-linecap="round"/>
<rect x="1446.45" y="1293.45" width="25.50" height="14.10" fill="#3CC473" stroke="#000" stroke-width="1.9" rx="0.8"/>
<line x1="1446.45" y1="1306.70" x2="1471.95" y2="1306.70" stroke="#000" stroke-width="2.4"/>
<circle cx="1459.20" cy="1300.50" r="1.6" fill="#000"/>
<text transform="translate(1458.26,1275.50) scale(1.03,1.1)" text-anchor="middle" style="font-family:'Liberation Serif',serif;font-weight:bold;font-size:28px">Ab</text>
<rect x="113.00" y="1086.80" width="1377.30" height="500.90" fill="none" stroke="#000" stroke-width="2.2"/>
<line x1="106.50" y1="1587.70" x2="113.00" y2="1587.70" stroke="#000" stroke-width="2"/>
<text transform="translate(102.8,1598.70) scale(1,1.07)" text-anchor="end" style="font-family:'Liberation Serif',serif;font-weight:bold;font-size:34px">0</text>
<line x1="109.50" y1="1559.87" x2="113.00" y2="1559.87" stroke="#000" stroke-width="2"/>
<line x1="106.50" y1="1532.04" x2="113.00" y2="1532.04" stroke="#000" stroke-width="2"/>
<text transform="translate(102.8,1543.04) scale(1,1.07)" text-anchor="end" style="font-family:'Liberation Serif',serif;font-weight:bold;font-size:34px">20</text>
<line x1="109.50" y1="1504.22" x2="113.00" y2="1504.22" stroke="#000" stroke-width="2"/>
<line x1="106.50" y1="1476.39" x2="113.00" y2="1476.39" stroke="#000" stroke-width="2"/>
<text transform="translate(102.8,1487.39) scale(1,1.07)" text-anchor="end" style="font-family:'Liberation Serif',serif;font-weight:bold;font-size:34px">40</text>
<line x1="109.50" y1="1448.56" x2="113.00" y2="1448.56" stroke="#000" stroke-width="2"/>
<line x1="106.50" y1="1420.73" x2="113.00" y2="1420.73" stroke="#000" stroke-width="2"/>
<text transform="translate(102.8,1431.73) scale(1,1.07)" text-anchor="end" style="font-family:'Liberation Serif',serif;font-weight:bold;font-size:34px">60</text>
<line x1="109.50" y1="1392.91" x2="113.00" y2="1392.91" stroke="#000" stroke-width="2"/>
<line x1="106.50" y1="1365.08" x2="113.00" y2="1365.08" stroke="#000" stroke-width="2"/>
<text transform="translate(102.8,1376.08) scale(1,1.07)" text-anchor="end" style="font-family:'Liberation Serif',serif;font-weight:bold;font-size:34px">80</text>
<line x1="109.50" y1="1337.25" x2="113.00" y2="1337.25" stroke="#000" stroke-width="2"/>
<line x1="106.50" y1="1309.42" x2="113.00" y2="1309.42" stroke="#000" stroke-width="2"/>
<text transform="translate(102.8,1320.42) scale(1,1.07)" text-anchor="end" style="font-family:'Liberation Serif',serif;font-weight:bold;font-size:34px">100</text>
<line x1="109.50" y1="1281.59" x2="113.00" y2="1281.59" stroke="#000" stroke-width="2"/>
<line x1="106.50" y1="1253.77" x2="113.00" y2="1253.77" stroke="#000" stroke-width="2"/>
<text transform="translate(102.8,1264.77) scale(1,1.07)" text-anchor="end" style="font-family:'Liberation Serif',serif;font-weight:bold;font-size:34px">120</text>
<line x1="109.50" y1="1225.94" x2="113.00" y2="1225.94" stroke="#000" stroke-width="2"/>
<line x1="106.50" y1="1198.11" x2="113.00" y2="1198.11" stroke="#000" stroke-width="2"/>
<text transform="translate(102.8,1209.11) scale(1,1.07)" text-anchor="end" style="font-family:'Liberation Serif',serif;font-weight:bold;font-size:34px">140</text>
<line x1="109.50" y1="1170.28" x2="113.00" y2="1170.28" stroke="#000" stroke-width="2"/>
<line x1="106.50" y1="1142.46" x2="113.00" y2="1142.46" stroke="#000" stroke-width="2"/>
<text transform="translate(102.8,1153.46) scale(1,1.07)" text-anchor="end" style="font-family:'Liberation Serif',serif;font-weight:bold;font-size:34px">160</text>
<line x1="109.50" y1="1114.63" x2="113.00" y2="1114.63" stroke="#000" stroke-width="2"/>
<line x1="106.50" y1="1086.80" x2="113.00" y2="1086.80" stroke="#000" stroke-width="2"/>
<text transform="translate(102.8,1097.80) scale(1,1.07)" text-anchor="end" style="font-family:'Liberation Serif',serif;font-weight:bold;font-size:34px">180</text>
<text x="138.2" y="1472.7" style="font-family:'Liberation Serif',serif;font-size:33px">F: <tspan style="stroke:#000;stroke-width:0.5px">**</tspan></text>
<text x="235.3" y="1472.7" style="font-family:'Liberation Serif',serif;font-size:33px">N: <tspan style="stroke:#000;stroke-width:0.5px">**</tspan></text>
<text x="391.8" y="1472.7" style="font-family:'Liberation Serif',serif;font-size:33px">F × N: NS</text>
<text x="558.3" y="1472.7" style="font-family:'Liberation Serif',serif;font-size:33px">F × S × N: <tspan style="stroke:#000;stroke-width:0.5px">**</tspan></text>
<text x="138.2" y="1528.7" style="font-family:'Liberation Serif',serif;font-size:33px">S: <tspan style="stroke:#000;stroke-width:0.5px">**</tspan></text>
<text x="235.3" y="1528.7" style="font-family:'Liberation Serif',serif;font-size:33px">F × S: <tspan style="stroke:#000;stroke-width:0.5px">**</tspan></text>
<text x="389.6" y="1528.7" style="font-family:'Liberation Serif',serif;font-size:33px">S × N: <tspan style="stroke:#000;stroke-width:0.5px">*</tspan></text>
<text transform="translate(39.7,1337.3) rotate(-90)" text-anchor="middle" xml:space="preserve" textLength="433.5" lengthAdjust="spacing" style="font-family:'Liberation Serif',serif;font-weight:bold;font-size:40px"><tspan>CAT (µmol min</tspan><tspan dy="-16" style="font-size:25px">-1</tspan><tspan dy="16"> g</tspan><tspan dy="-16" style="font-size:25px">-1</tspan><tspan dy="16"> FW)</tspan></text>
<rect x="285.96" y="1626.10" width="172.16" height="496.10" fill="#F0F0F0"/>
<rect x="458.12" y="1626.10" width="172.16" height="496.10" fill="#D9D9D9"/>
<rect x="630.29" y="1626.10" width="172.16" height="496.10" fill="#C0C0C0"/>
<rect x="974.61" y="1626.10" width="172.16" height="496.10" fill="#F0F0F0"/>
<rect x="1146.77" y="1626.10" width="172.16" height="496.10" fill="#D9D9D9"/>
<rect x="1318.94" y="1626.10" width="170.26" height="496.10" fill="#C0C0C0"/>
<line x1="802.30" y1="2124.00" x2="802.30" y2="1624.30" stroke="#000" stroke-width="2.3" stroke-dasharray="12.75,12.55"/>
<line x1="144.90" y1="1807.60" x2="144.90" y2="1825.40" stroke="#000" stroke-width="1.8"/>
<line x1="144.90" y1="1892.50" x2="144.90" y2="1920.60" stroke="#000" stroke-width="1.8"/>
<line x1="137.50" y1="1807.60" x2="152.30" y2="1807.60" stroke="#000" stroke-width="2.4" stroke-linecap="round"/>
<line x1="137.50" y1="1920.60" x2="152.30" y2="1920.60" stroke="#000" stroke-width="2.4" stroke-linecap="round"/>
<rect x="132.15" y="1826.35" width="25.50" height="65.20" fill="#EE0000" stroke="#000" stroke-width="1.9" rx="0.8"/>
<line x1="132.15" y1="1848.10" x2="157.65" y2="1848.10" stroke="#000" stroke-width="2.4"/>
<circle cx="144.90" cy="1858.90" r="1.6" fill="#000"/>
<text transform="translate(144.89,1799.60) scale(1.03,1.1)" text-anchor="middle" style="font-family:'Liberation Serif',serif;font-weight:bold;font-size:28px">Ab</text>
<line x1="181.55" y1="1855.20" x2="181.55" y2="1859.30" stroke="#000" stroke-width="1.8"/>
<line x1="181.55" y1="1886.80" x2="181.55" y2="1899.10" stroke="#000" stroke-width="1.8"/>
<line x1="174.15" y1="1855.20" x2="188.95" y2="1855.20" stroke="#000" stroke-width="2.4" stroke-linecap="round"/>
<line x1="174.15" y1="1899.10" x2="188.95" y2="1899.10" stroke="#000" stroke-width="2.4" stroke-linecap="round"/>
<rect x="168.80" y="1860.25" width="25.50" height="25.60" fill="#336699" stroke="#000" stroke-width="1.9" rx="0.8"/>
<line x1="168.80" y1="1863.80" x2="194.30" y2="1863.80" stroke="#000" stroke-width="2.4"/>
<circle cx="181.55" cy="1872.70" r="1.6" fill="#000"/>
<text transform="translate(183.59,1848.00) scale(1.03,1.1)" text-anchor="middle" style="font-family:'Liberation Serif',serif;font-weight:bold;font-size:28px">Ab</text>
<line x1="218.21" y1="1869.90" x2="218.21" y2="1878.20" stroke="#000" stroke-width="1.8"/>
<line x1="218.21" y1="1904.60" x2="218.21" y2="1914.70" stroke="#000" stroke-width="1.8"/>
<line x1="210.81" y1="1869.90" x2="225.61" y2="1869.90" stroke="#000" stroke-width="2.4" stroke-linecap="round"/>
<line x1="210.81" y1="1914.70" x2="225.61" y2="1914.70" stroke="#000" stroke-width="2.4" stroke-linecap="round"/>
<rect x="205.46" y="1879.15" width="25.50" height="24.50" fill="#FFC316" stroke="#000" stroke-width="1.9" rx="0.8"/>
<line x1="205.46" y1="1889.40" x2="230.96" y2="1889.40" stroke="#000" stroke-width="2.4"/>
<circle cx="218.21" cy="1891.40" r="1.6" fill="#000"/>
<text transform="translate(216.79,1862.70) scale(1.03,1.1)" text-anchor="middle" style="font-family:'Liberation Serif',serif;font-weight:bold;font-size:28px">Ab</text>
<line x1="254.86" y1="1865.30" x2="254.86" y2="1875.30" stroke="#000" stroke-width="1.8"/>
<line x1="254.86" y1="1922.40" x2="254.86" y2="1944.70" stroke="#000" stroke-width="1.8"/>
<line x1="247.46" y1="1865.30" x2="262.26" y2="1865.30" stroke="#000" stroke-width="2.4" stroke-linecap="round"/>
<line x1="247.46" y1="1944.70" x2="262.26" y2="1944.70" stroke="#000" stroke-width="2.4" stroke-linecap="round"/>
<rect x="242.11" y="1876.25" width="25.50" height="45.20" fill="#3CC473" stroke="#000" stroke-width="1.9" rx="0.8"/>
<line x1="242.11" y1="1886.20" x2="267.61" y2="1886.20" stroke="#000" stroke-width="2.4"/>
<circle cx="254.86" cy="1899.10" r="1.6" fill="#000"/>
<text transform="translate(254.99,1855.80) scale(1.03,1.1)" text-anchor="middle" style="font-family:'Liberation Serif',serif;font-weight:bold;font-size:28px">Ab</text>
<line x1="317.06" y1="1773.90" x2="317.06" y2="1778.90" stroke="#000" stroke-width="1.8"/>
<line x1="317.06" y1="1796.80" x2="317.06" y2="1804.30" stroke="#000" stroke-width="1.8"/>
<line x1="309.66" y1="1773.90" x2="324.46" y2="1773.90" stroke="#000" stroke-width="2.4" stroke-linecap="round"/>
<line x1="309.66" y1="1804.30" x2="324.46" y2="1804.30" stroke="#000" stroke-width="2.4" stroke-linecap="round"/>
<rect x="304.31" y="1779.85" width="25.50" height="16.00" fill="#EE0000" stroke="#000" stroke-width="1.9" rx="0.8"/>
<line x1="304.31" y1="1784.60" x2="329.81" y2="1784.60" stroke="#000" stroke-width="2.4"/>
<circle cx="317.06" cy="1787.90" r="1.6" fill="#000"/>
<text transform="translate(317.16,1767.80) scale(1.03,1.1)" text-anchor="middle" style="font-family:'Liberation Serif',serif;font-weight:bold;font-size:28px">Aab</text>
<line x1="353.72" y1="1772.00" x2="353.72" y2="1782.10" stroke="#000" stroke-width="1.8"/>
<line x1="353.72" y1="1804.50" x2="353.72" y2="1805.10" stroke="#000" stroke-width="1.8"/>
<line x1="346.32" y1="1772.00" x2="361.12" y2="1772.00" stroke="#000" stroke-width="2.4" stroke-linecap="round"/>
<line x1="346.32" y1="1805.10" x2="361.12" y2="1805.10" stroke="#000" stroke-width="2.4" stroke-linecap="round"/>
<rect x="340.97" y="1783.05" width="25.50" height="20.50" fill="#336699" stroke="#000" stroke-width="1.9" rx="0.8"/>
<line x1="340.97" y1="1802.50" x2="366.47" y2="1802.50" stroke="#000" stroke-width="2.4"/>
<circle cx="353.72" cy="1792.70" r="1.6" fill="#000"/>
<text transform="translate(358.66,1766.10) scale(1.03,1.1)" text-anchor="middle" style="font-family:'Liberation Serif',serif;font-weight:bold;font-size:28px">Aa</text>
<line x1="390.37" y1="1815.60" x2="390.37" y2="1826.10" stroke="#000" stroke-width="1.8"/>
<line x1="390.37" y1="1871.20" x2="390.37" y2="1891.30" stroke="#000" stroke-width="1.8"/>
<line x1="382.97" y1="1815.60" x2="397.77" y2="1815.60" stroke="#000" stroke-width="2.4" stroke-linecap="round"/>
<line x1="382.97" y1="1891.30" x2="397.77" y2="1891.30" stroke="#000" stroke-width="2.4" stroke-linecap="round"/>
<rect x="377.62" y="1827.05" width="25.50" height="43.20" fill="#FFC316" stroke="#000" stroke-width="1.9" rx="0.8"/>
<line x1="377.62" y1="1838.70" x2="403.12" y2="1838.70" stroke="#000" stroke-width="2.4"/>
<circle cx="390.37" cy="1848.60" r="1.6" fill="#000"/>
<text transform="translate(395.16,1808.70) scale(1.03,1.1)" text-anchor="middle" style="font-family:'Liberation Serif',serif;font-weight:bold;font-size:28px">ABb</text>
<line x1="427.03" y1="1814.20" x2="427.03" y2="1835.10" stroke="#000" stroke-width="1.8"/>
<line x1="427.03" y1="1883.80" x2="427.03" y2="1898.50" stroke="#000" stroke-width="1.8"/>
<line x1="419.63" y1="1814.20" x2="434.43" y2="1814.20" stroke="#000" stroke-width="2.4" stroke-linecap="round"/>
<line x1="419.63" y1="1898.50" x2="434.43" y2="1898.50" stroke="#000" stroke-width="2.4" stroke-linecap="round"/>
<rect x="414.28" y="1836.05" width="25.50" height="46.80" fill="#3CC473" stroke="#000" stroke-width="1.9" rx="0.8"/>
<line x1="414.28" y1="1865.50" x2="439.78" y2="1865.50" stroke="#000" stroke-width="2.4"/>
<circle cx="427.03" cy="1859.20" r="1.6" fill="#000"/>
<text transform="translate(431.76,1786.20) scale(1.03,1.1)" text-anchor="middle" style="font-family:'Liberation Serif',serif;font-weight:bold;font-size:28px">Bab</text>
<line x1="489.22" y1="1802.10" x2="489.22" y2="1803.00" stroke="#000" stroke-width="1.8"/>
<line x1="489.22" y1="1846.00" x2="489.22" y2="1867.50" stroke="#000" stroke-width="1.8"/>
<line x1="481.82" y1="1802.10" x2="496.62" y2="1802.10" stroke="#000" stroke-width="2.4" stroke-linecap="round"/>
<line x1="481.82" y1="1867.50" x2="496.62" y2="1867.50" stroke="#000" stroke-width="2.4" stroke-linecap="round"/>
<rect x="476.47" y="1803.95" width="25.50" height="41.10" fill="#EE0000" stroke="#000" stroke-width="1.9" rx="0.8"/>
<line x1="476.47" y1="1804.40" x2="501.97" y2="1804.40" stroke="#000" stroke-width="2.4"/>
<circle cx="489.22" cy="1825.10" r="1.6" fill="#000"/>
<text transform="translate(487.84,1784.10) scale(1.03,1.1)" text-anchor="middle" style="font-family:'Liberation Serif',serif;font-weight:bold;font-size:28px">Aab</text>
<line x1="525.88" y1="1823.90" x2="525.88" y2="1825.20" stroke="#000" stroke-width="1.8"/>
<line x1="525.88" y1="1863.20" x2="525.88" y2="1881.90" stroke="#000" stroke-width="1.8"/>
<line x1="518.48" y1="1823.90" x2="533.28" y2="1823.90" stroke="#000" stroke-width="2.4" stroke-linecap="round"/>
<line x1="518.48" y1="1881.90" x2="533.28" y2="1881.90" stroke="#000" stroke-width="2.4" stroke-linecap="round"/>
<rect x="513.13" y="1826.15" width="25.50" height="36.10" fill="#336699" stroke="#000" stroke-width="1.9" rx="0.8"/>
<line x1="513.13" y1="1827.00" x2="538.63" y2="1827.00" stroke="#000" stroke-width="2.4"/>
<circle cx="525.88" cy="1844.40" r="1.6" fill="#000"/>
<text transform="translate(535.14,1805.60) scale(1.03,1.1)" text-anchor="middle" style="font-family:'Liberation Serif',serif;font-weight:bold;font-size:28px">ABb</text>
<line x1="562.53" y1="1835.60" x2="562.53" y2="1847.10" stroke="#000" stroke-width="1.8"/>
<line x1="562.53" y1="1871.40" x2="562.53" y2="1873.50" stroke="#000" stroke-width="1.8"/>
<line x1="555.13" y1="1835.60" x2="569.93" y2="1835.60" stroke="#000" stroke-width="2.4" stroke-linecap="round"/>
<line x1="555.13" y1="1873.50" x2="569.93" y2="1873.50" stroke="#000" stroke-width="2.4" stroke-linecap="round"/>
<rect x="549.78" y="1848.05" width="25.50" height="22.40" fill="#FFC316" stroke="#000" stroke-width="1.9" rx="0.8"/>
<line x1="549.78" y1="1869.80" x2="575.28" y2="1869.80" stroke="#000" stroke-width="2.4"/>
<circle cx="562.53" cy="1858.90" r="1.6" fill="#000"/>
<text transform="translate(572.84,1829.70) scale(1.03,1.1)" text-anchor="middle" style="font-family:'Liberation Serif',serif;font-weight:bold;font-size:28px">ABb</text>
<line x1="599.19" y1="1863.90" x2="599.19" y2="1873.80" stroke="#000" stroke-width="1.8"/>
<line x1="599.19" y1="1894.00" x2="599.19" y2="1896.40" stroke="#000" stroke-width="1.8"/>
<line x1="591.79" y1="1863.90" x2="606.59" y2="1863.90" stroke="#000" stroke-width="2.4" stroke-linecap="round"/>
<line x1="591.79" y1="1896.40" x2="606.59" y2="1896.40" stroke="#000" stroke-width="2.4" stroke-linecap="round"/>
<rect x="586.44" y="1874.75" width="25.50" height="18.30" fill="#3CC473" stroke="#000" stroke-width="1.9" rx="0.8"/>
<line x1="586.44" y1="1892.20" x2="611.94" y2="1892.20" stroke="#000" stroke-width="2.4"/>
<circle cx="599.19" cy="1883.60" r="1.6" fill="#000"/>
<text transform="translate(604.54,1857.80) scale(1.03,1.1)" text-anchor="middle" style="font-family:'Liberation Serif',serif;font-weight:bold;font-size:28px">Bab</text>
<line x1="661.39" y1="1698.30" x2="661.39" y2="1720.90" stroke="#000" stroke-width="1.8"/>
<line x1="661.39" y1="1779.00" x2="661.39" y2="1799.00" stroke="#000" stroke-width="1.8"/>
<line x1="653.99" y1="1698.30" x2="668.79" y2="1698.30" stroke="#000" stroke-width="2.4" stroke-linecap="round"/>
<line x1="653.99" y1="1799.00" x2="668.79" y2="1799.00" stroke="#000" stroke-width="2.4" stroke-linecap="round"/>
<rect x="648.64" y="1721.85" width="25.50" height="56.20" fill="#EE0000" stroke="#000" stroke-width="1.9" rx="0.8"/>
<line x1="648.64" y1="1752.70" x2="674.14" y2="1752.70" stroke="#000" stroke-width="2.4"/>
<circle cx="661.39" cy="1750.00" r="1.6" fill="#000"/>
<text transform="translate(661.71,1690.70) scale(1.03,1.1)" text-anchor="middle" style="font-family:'Liberation Serif',serif;font-weight:bold;font-size:28px">Aa</text>
<line x1="698.04" y1="1738.40" x2="698.04" y2="1749.40" stroke="#000" stroke-width="1.8"/>
<line x1="698.04" y1="1780.50" x2="698.04" y2="1791.90" stroke="#000" stroke-width="1.8"/>
<line x1="690.64" y1="1738.40" x2="705.44" y2="1738.40" stroke="#000" stroke-width="2.4" stroke-linecap="round"/>
<line x1="690.64" y1="1791.90" x2="705.44" y2="1791.90" stroke="#000" stroke-width="2.4" stroke-linecap="round"/>
<rect x="685.29" y="1750.35" width="25.50" height="29.20" fill="#336699" stroke="#000" stroke-width="1.9" rx="0.8"/>
<line x1="685.29" y1="1765.00" x2="710.79" y2="1765.00" stroke="#000" stroke-width="2.4"/>
<circle cx="698.04" cy="1765.00" r="1.6" fill="#000"/>
<text transform="translate(698.41,1730.40) scale(1.03,1.1)" text-anchor="middle" style="font-family:'Liberation Serif',serif;font-weight:bold;font-size:28px">Aa</text>
<line x1="734.70" y1="1771.70" x2="734.70" y2="1780.50" stroke="#000" stroke-width="1.8"/>
<line x1="734.70" y1="1799.80" x2="734.70" y2="1804.90" stroke="#000" stroke-width="1.8"/>
<line x1="727.30" y1="1771.70" x2="742.10" y2="1771.70" stroke="#000" stroke-width="2.4" stroke-linecap="round"/>
<line x1="727.30" y1="1804.90" x2="742.10" y2="1804.90" stroke="#000" stroke-width="2.4" stroke-linecap="round"/>
<rect x="721.95" y="1781.45" width="25.50" height="17.40" fill="#FFC316" stroke="#000" stroke-width="1.9" rx="0.8"/>
<line x1="721.95" y1="1793.90" x2="747.45" y2="1793.90" stroke="#000" stroke-width="2.4"/>
<circle cx="734.70" cy="1790.30" r="1.6" fill="#000"/>
<text transform="translate(735.11,1764.80) scale(1.03,1.1)" text-anchor="middle" style="font-family:'Liberation Serif',serif;font-weight:bold;font-size:28px">Aa</text>
<line x1="771.35" y1="1793.50" x2="771.35" y2="1794.80" stroke="#000" stroke-width="1.8"/>
<line x1="771.35" y1="1844.30" x2="771.35" y2="1868.60" stroke="#000" stroke-width="1.8"/>
<line x1="763.95" y1="1793.50" x2="778.75" y2="1793.50" stroke="#000" stroke-width="2.4" stroke-linecap="round"/>
<line x1="763.95" y1="1868.60" x2="778.75" y2="1868.60" stroke="#000" stroke-width="2.4" stroke-linecap="round"/>
<rect x="758.60" y="1795.75" width="25.50" height="47.60" fill="#3CC473" stroke="#000" stroke-width="1.9" rx="0.8"/>
<line x1="758.60" y1="1796.50" x2="784.10" y2="1796.50" stroke="#000" stroke-width="2.4"/>
<circle cx="771.35" cy="1819.60" r="1.6" fill="#000"/>
<text transform="translate(771.81,1785.60) scale(1.03,1.1)" text-anchor="middle" style="font-family:'Liberation Serif',serif;font-weight:bold;font-size:28px">Aa</text>
<line x1="833.55" y1="1764.60" x2="833.55" y2="1770.70" stroke="#000" stroke-width="1.8"/>
<line x1="833.55" y1="1785.20" x2="833.55" y2="1788.70" stroke="#000" stroke-width="1.8"/>
<line x1="826.15" y1="1764.60" x2="840.95" y2="1764.60" stroke="#000" stroke-width="2.4" stroke-linecap="round"/>
<line x1="826.15" y1="1788.70" x2="840.95" y2="1788.70" stroke="#000" stroke-width="2.4" stroke-linecap="round"/>
<rect x="820.80" y="1771.65" width="25.50" height="12.60" fill="#EE0000" stroke="#000" stroke-width="1.9" rx="0.8"/>
<line x1="820.80" y1="1781.00" x2="846.30" y2="1781.00" stroke="#000" stroke-width="2.4"/>
<circle cx="833.55" cy="1777.80" r="1.6" fill="#000"/>
<text transform="translate(833.99,1756.60) scale(1.03,1.1)" text-anchor="middle" style="font-family:'Liberation Serif',serif;font-weight:bold;font-size:28px">Aa</text>
<line x1="870.20" y1="1781.00" x2="870.20" y2="1783.30" stroke="#000" stroke-width="1.8"/>
<line x1="870.20" y1="1838.40" x2="870.20" y2="1865.60" stroke="#000" stroke-width="1.8"/>
<line x1="862.80" y1="1781.00" x2="877.60" y2="1781.00" stroke="#000" stroke-width="2.4" stroke-linecap="round"/>
<line x1="862.80" y1="1865.60" x2="877.60" y2="1865.60" stroke="#000" stroke-width="2.4" stroke-linecap="round"/>
<rect x="857.45" y="1784.25" width="25.50" height="53.20" fill="#336699" stroke="#000" stroke-width="1.9" rx="0.8"/>
<line x1="857.45" y1="1787.00" x2="882.95" y2="1787.00" stroke="#000" stroke-width="2.4"/>
<circle cx="870.20" cy="1811.10" r="1.6" fill="#000"/>
<text transform="translate(870.69,1773.20) scale(1.03,1.1)" text-anchor="middle" style="font-family:'Liberation Serif',serif;font-weight:bold;font-size:28px">Aa</text>
<line x1="906.86" y1="1808.80" x2="906.86" y2="1819.30" stroke="#000" stroke-width="1.8"/>
<line x1="906.86" y1="1847.50" x2="906.86" y2="1857.50" stroke="#000" stroke-width="1.8"/>
<line x1="899.46" y1="1808.80" x2="914.26" y2="1808.80" stroke="#000" stroke-width="2.4" stroke-linecap="round"/>
<line x1="899.46" y1="1857.50" x2="914.26" y2="1857.50" stroke="#000" stroke-width="2.4" stroke-linecap="round"/>
<rect x="894.11" y="1820.25" width="25.50" height="26.30" fill="#FFC316" stroke="#000" stroke-width="1.9" rx="0.8"/>
<line x1="894.11" y1="1833.40" x2="919.61" y2="1833.40" stroke="#000" stroke-width="2.4"/>
<circle cx="906.86" cy="1832.90" r="1.6" fill="#000"/>
<text transform="translate(907.39,1801.90) scale(1.03,1.1)" text-anchor="middle" style="font-family:'Liberation Serif',serif;font-weight:bold;font-size:28px">Aa</text>
<line x1="943.51" y1="1874.70" x2="943.51" y2="1889.70" stroke="#000" stroke-width="1.8"/>
<line x1="943.51" y1="1939.60" x2="943.51" y2="1962.00" stroke="#000" stroke-width="1.8"/>
<line x1="936.11" y1="1874.70" x2="950.91" y2="1874.70" stroke="#000" stroke-width="2.4" stroke-linecap="round"/>
<line x1="936.11" y1="1962.00" x2="950.91" y2="1962.00" stroke="#000" stroke-width="2.4" stroke-linecap="round"/>
<rect x="930.76" y="1890.65" width="25.50" height="48.00" fill="#3CC473" stroke="#000" stroke-width="1.9" rx="0.8"/>
<line x1="930.76" y1="1907.20" x2="956.26" y2="1907.20" stroke="#000" stroke-width="2.4"/>
<circle cx="943.51" cy="1914.30" r="1.6" fill="#000"/>
<text transform="translate(944.09,1867.90) scale(1.03,1.1)" text-anchor="middle" style="font-family:'Liberation Serif',serif;font-weight:bold;font-size:28px">Ba</text>
<line x1="1005.71" y1="1825.00" x2="1005.71" y2="1837.10" stroke="#000" stroke-width="1.8"/>
<line x1="1005.71" y1="1861.90" x2="1005.71" y2="1866.00" stroke="#000" stroke-width="1.8"/>
<line x1="998.31" y1="1825.00" x2="1013.11" y2="1825.00" stroke="#000" stroke-width="2.4" stroke-linecap="round"/>
<line x1="998.31" y1="1866.00" x2="1013.11" y2="1866.00" stroke="#000" stroke-width="2.4" stroke-linecap="round"/>
<rect x="992.96" y="1838.05" width="25.50" height="22.90" fill="#EE0000" stroke="#000" stroke-width="1.9" rx="0.8"/>
<line x1="992.96" y1="1857.60" x2="1018.46" y2="1857.60" stroke="#000" stroke-width="2.4"/>
<circle cx="1005.71" cy="1849.50" r="1.6" fill="#000"/>
<text transform="translate(1006.26,1817.30) scale(1.03,1.1)" text-anchor="middle" style="font-family:'Liberation Serif',serif;font-weight:bold;font-size:28px">Ab</text>
<line x1="1042.37" y1="1887.60" x2="1042.37" y2="1893.10" stroke="#000" stroke-width="1.8"/>
<line x1="1042.37" y1="1920.20" x2="1042.37" y2="1933.30" stroke="#000" stroke-width="1.8"/>
<line x1="1034.97" y1="1887.60" x2="1049.77" y2="1887.60" stroke="#000" stroke-width="2.4" stroke-linecap="round"/>
<line x1="1034.97" y1="1933.30" x2="1049.77" y2="1933.30" stroke="#000" stroke-width="2.4" stroke-linecap="round"/>
<rect x="1029.62" y="1894.05" width="25.50" height="25.20" fill="#336699" stroke="#000" stroke-width="1.9" rx="0.8"/>
<line x1="1029.62" y1="1899.40" x2="1055.12" y2="1899.40" stroke="#000" stroke-width="2.4"/>
<circle cx="1042.37" cy="1906.90" r="1.6" fill="#000"/>
<text transform="translate(1042.96,1875.80) scale(1.03,1.1)" text-anchor="middle" style="font-family:'Liberation Serif',serif;font-weight:bold;font-size:28px">ABb</text>
<line x1="1079.02" y1="1902.90" x2="1079.02" y2="1906.40" stroke="#000" stroke-width="1.8"/>
<line x1="1079.02" y1="1937.00" x2="1079.02" y2="1952.80" stroke="#000" stroke-width="1.8"/>
<line x1="1071.62" y1="1902.90" x2="1086.42" y2="1902.90" stroke="#000" stroke-width="2.4" stroke-linecap="round"/>
<line x1="1071.62" y1="1952.80" x2="1086.42" y2="1952.80" stroke="#000" stroke-width="2.4" stroke-linecap="round"/>
<rect x="1066.27" y="1907.35" width="25.50" height="28.70" fill="#FFC316" stroke="#000" stroke-width="1.9" rx="0.8"/>
<line x1="1066.27" y1="1909.80" x2="1091.77" y2="1909.80" stroke="#000" stroke-width="2.4"/>
<circle cx="1079.02" cy="1921.40" r="1.6" fill="#000"/>
<text transform="translate(1079.66,1897.20) scale(1.03,1.1)" text-anchor="middle" style="font-family:'Liberation Serif',serif;font-weight:bold;font-size:28px">Bc</text>
<line x1="1115.68" y1="1896.60" x2="1115.68" y2="1908.70" stroke="#000" stroke-width="1.8"/>
<line x1="1115.68" y1="1965.20" x2="1115.68" y2="1991.80" stroke="#000" stroke-width="1.8"/>
<line x1="1108.28" y1="1896.60" x2="1123.08" y2="1896.60" stroke="#000" stroke-width="2.4" stroke-linecap="round"/>
<line x1="1108.28" y1="1991.80" x2="1123.08" y2="1991.80" stroke="#000" stroke-width="2.4" stroke-linecap="round"/>
<rect x="1102.93" y="1909.65" width="25.50" height="54.60" fill="#3CC473" stroke="#000" stroke-width="1.9" rx="0.8"/>
<line x1="1102.93" y1="1921.40" x2="1128.43" y2="1921.40" stroke="#000" stroke-width="2.4"/>
<circle cx="1115.68" cy="1936.40" r="1.6" fill="#000"/>
<text transform="translate(1116.36,1888.50) scale(1.03,1.1)" text-anchor="middle" style="font-family:'Liberation Serif',serif;font-weight:bold;font-size:28px">Ba</text>
<line x1="1177.87" y1="1834.80" x2="1177.87" y2="1843.70" stroke="#000" stroke-width="1.8"/>
<line x1="1177.87" y1="1863.20" x2="1177.87" y2="1866.90" stroke="#000" stroke-width="1.8"/>
<line x1="1170.47" y1="1834.80" x2="1185.27" y2="1834.80" stroke="#000" stroke-width="2.4" stroke-linecap="round"/>
<line x1="1170.47" y1="1866.90" x2="1185.27" y2="1866.90" stroke="#000" stroke-width="2.4" stroke-linecap="round"/>
<rect x="1165.12" y="1844.65" width="25.50" height="17.60" fill="#EE0000" stroke="#000" stroke-width="1.9" rx="0.8"/>
<line x1="1165.12" y1="1859.40" x2="1190.62" y2="1859.40" stroke="#000" stroke-width="2.4"/>
<circle cx="1177.87" cy="1853.50" r="1.6" fill="#000"/>
<text transform="translate(1176.84,1825.60) scale(1.03,1.1)" text-anchor="middle" style="font-family:'Liberation Serif',serif;font-weight:bold;font-size:28px">Ab</text>
<line x1="1214.53" y1="1830.40" x2="1214.53" y2="1836.80" stroke="#000" stroke-width="1.8"/>
<line x1="1214.53" y1="1885.50" x2="1214.53" y2="1909.60" stroke="#000" stroke-width="1.8"/>
<line x1="1207.13" y1="1830.40" x2="1221.93" y2="1830.40" stroke="#000" stroke-width="2.4" stroke-linecap="round"/>
<line x1="1207.13" y1="1909.60" x2="1221.93" y2="1909.60" stroke="#000" stroke-width="2.4" stroke-linecap="round"/>
<rect x="1201.78" y="1837.75" width="25.50" height="46.80" fill="#336699" stroke="#000" stroke-width="1.9" rx="0.8"/>
<line x1="1201.78" y1="1843.70" x2="1227.28" y2="1843.70" stroke="#000" stroke-width="2.4"/>
<circle cx="1214.53" cy="1861.40" r="1.6" fill="#000"/>
<text transform="translate(1223.24,1823.00) scale(1.03,1.1)" text-anchor="middle" style="font-family:'Liberation Serif',serif;font-weight:bold;font-size:28px">Aab</text>
<line x1="1251.18" y1="1869.40" x2="1251.18" y2="1873.50" stroke="#000" stroke-width="1.8"/>
<line x1="1251.18" y1="1884.30" x2="1251.18" y2="1888.40" stroke="#000" stroke-width="1.8"/>
<line x1="1243.78" y1="1869.40" x2="1258.58" y2="1869.40" stroke="#000" stroke-width="2.4" stroke-linecap="round"/>
<line x1="1243.78" y1="1888.40" x2="1258.58" y2="1888.40" stroke="#000" stroke-width="2.4" stroke-linecap="round"/>
<rect x="1238.43" y="1874.45" width="25.50" height="8.90" fill="#FFC316" stroke="#000" stroke-width="1.9" rx="0.8"/>
<line x1="1238.43" y1="1878.90" x2="1263.93" y2="1878.90" stroke="#000" stroke-width="2.4"/>
<circle cx="1251.18" cy="1878.90" r="1.6" fill="#000"/>
<text transform="translate(1251.94,1861.50) scale(1.03,1.1)" text-anchor="middle" style="font-family:'Liberation Serif',serif;font-weight:bold;font-size:28px">Ab</text>
<line x1="1287.84" y1="1880.60" x2="1287.84" y2="1881.30" stroke="#000" stroke-width="1.8"/>
<line x1="1287.84" y1="1907.30" x2="1287.84" y2="1919.70" stroke="#000" stroke-width="1.8"/>
<line x1="1280.44" y1="1880.60" x2="1295.24" y2="1880.60" stroke="#000" stroke-width="2.4" stroke-linecap="round"/>
<line x1="1280.44" y1="1919.70" x2="1295.24" y2="1919.70" stroke="#000" stroke-width="2.4" stroke-linecap="round"/>
<rect x="1275.09" y="1882.25" width="25.50" height="24.10" fill="#3CC473" stroke="#000" stroke-width="1.9" rx="0.8"/>
<line x1="1275.09" y1="1882.60" x2="1300.59" y2="1882.60" stroke="#000" stroke-width="2.4"/>
<circle cx="1287.84" cy="1894.60" r="1.6" fill="#000"/>
<text transform="translate(1288.64,1871.50) scale(1.03,1.1)" text-anchor="middle" style="font-family:'Liberation Serif',serif;font-weight:bold;font-size:28px">Aa</text>
<line x1="1350.04" y1="1801.60" x2="1350.04" y2="1816.50" stroke="#000" stroke-width="1.8"/>
<line x1="1350.04" y1="1857.20" x2="1350.04" y2="1871.90" stroke="#000" stroke-width="1.8"/>
<line x1="1342.64" y1="1801.60" x2="1357.44" y2="1801.60" stroke="#000" stroke-width="2.4" stroke-linecap="round"/>
<line x1="1342.64" y1="1871.90" x2="1357.44" y2="1871.90" stroke="#000" stroke-width="2.4" stroke-linecap="round"/>
<rect x="1337.29" y="1817.45" width="25.50" height="38.80" fill="#EE0000" stroke="#000" stroke-width="1.9" rx="0.8"/>
<line x1="1337.29" y1="1836.30" x2="1362.79" y2="1836.30" stroke="#000" stroke-width="2.4"/>
<circle cx="1350.04" cy="1837.10" r="1.6" fill="#000"/>
<text transform="translate(1348.81,1793.00) scale(1.03,1.1)" text-anchor="middle" style="font-family:'Liberation Serif',serif;font-weight:bold;font-size:28px">Ab</text>
<line x1="1386.69" y1="1817.60" x2="1386.69" y2="1828.70" stroke="#000" stroke-width="1.8"/>
<line x1="1386.69" y1="1850.10" x2="1386.69" y2="1853.50" stroke="#000" stroke-width="1.8"/>
<line x1="1379.29" y1="1817.60" x2="1394.09" y2="1817.60" stroke="#000" stroke-width="2.4" stroke-linecap="round"/>
<line x1="1379.29" y1="1853.50" x2="1394.09" y2="1853.50" stroke="#000" stroke-width="2.4" stroke-linecap="round"/>
<rect x="1373.94" y="1829.65" width="25.50" height="19.50" fill="#336699" stroke="#000" stroke-width="1.9" rx="0.8"/>
<line x1="1373.94" y1="1848.00" x2="1399.44" y2="1848.00" stroke="#000" stroke-width="2.4"/>
<circle cx="1386.69" cy="1839.40" r="1.6" fill="#000"/>
<text transform="translate(1387.51,1809.80) scale(1.03,1.1)" text-anchor="middle" style="font-family:'Liberation Serif',serif;font-weight:bold;font-size:28px">Aab</text>
<line x1="1423.35" y1="1881.90" x2="1423.35" y2="1891.90" stroke="#000" stroke-width="1.8"/>
<line x1="1423.35" y1="1912.30" x2="1423.35" y2="1912.50" stroke="#000" stroke-width="1.8"/>
<line x1="1415.95" y1="1881.90" x2="1430.75" y2="1881.90" stroke="#000" stroke-width="2.4" stroke-linecap="round"/>
<line x1="1415.95" y1="1912.50" x2="1430.75" y2="1912.50" stroke="#000" stroke-width="2.4" stroke-linecap="round"/>
<rect x="1410.60" y="1892.85" width="25.50" height="18.50" fill="#FFC316" stroke="#000" stroke-width="1.9" rx="0.8"/>
<line x1="1410.60" y1="1911.80" x2="1436.10" y2="1911.80" stroke="#000" stroke-width="2.4"/>
<circle cx="1423.35" cy="1901.70" r="1.6" fill="#000"/>
<text transform="translate(1422.41,1874.40) scale(1.03,1.1)" text-anchor="middle" style="font-family:'Liberation Serif',serif;font-weight:bold;font-size:28px">Bbc</text>
<line x1="1460.00" y1="1900.20" x2="1460.00" y2="1912.30" stroke="#000" stroke-width="1.8"/>
<line x1="1460.00" y1="1935.20" x2="1460.00" y2="1937.50" stroke="#000" stroke-width="1.8"/>
<line x1="1452.60" y1="1900.20" x2="1467.40" y2="1900.20" stroke="#000" stroke-width="2.4" stroke-linecap="round"/>
<line x1="1452.60" y1="1937.50" x2="1467.40" y2="1937.50" stroke="#000" stroke-width="2.4" stroke-linecap="round"/>
<rect x="1447.25" y="1913.25" width="25.50" height="21.00" fill="#3CC473" stroke="#000" stroke-width="1.9" rx="0.8"/>
<line x1="1447.25" y1="1933.50" x2="1472.75" y2="1933.50" stroke="#000" stroke-width="2.4"/>
<circle cx="1460.00" cy="1923.20" r="1.6" fill="#000"/>
<text transform="translate(1460.91,1895.70) scale(1.03,1.1)" text-anchor="middle" style="font-family:'Liberation Serif',serif;font-weight:bold;font-size:28px">Ba</text>
<rect x="113.80" y="1624.30" width="1377.30" height="499.70" fill="none" stroke="#000" stroke-width="2.2"/>
<line x1="107.30" y1="2124.00" x2="113.80" y2="2124.00" stroke="#000" stroke-width="2"/>
<text transform="translate(102.8,2135.00) scale(1.04,1.095)" text-anchor="end" style="font-family:'Liberation Serif',serif;font-weight:bold;font-size:34px">0</text>
<line x1="110.30" y1="2099.01" x2="113.80" y2="2099.01" stroke="#000" stroke-width="2"/>
<line x1="107.30" y1="2074.03" x2="113.80" y2="2074.03" stroke="#000" stroke-width="2"/>
<text transform="translate(102.8,2085.03) scale(1.04,1.095)" text-anchor="end" style="font-family:'Liberation Serif',serif;font-weight:bold;font-size:34px">10</text>
<line x1="110.30" y1="2049.05" x2="113.80" y2="2049.05" stroke="#000" stroke-width="2"/>
<line x1="107.30" y1="2024.06" x2="113.80" y2="2024.06" stroke="#000" stroke-width="2"/>
<text transform="translate(102.8,2035.06) scale(1.04,1.095)" text-anchor="end" style="font-family:'Liberation Serif',serif;font-weight:bold;font-size:34px">20</text>
<line x1="110.30" y1="1999.08" x2="113.80" y2="1999.08" stroke="#000" stroke-width="2"/>
<line x1="107.30" y1="1974.09" x2="113.80" y2="1974.09" stroke="#000" stroke-width="2"/>
<text transform="translate(102.8,1985.09) scale(1.04,1.095)" text-anchor="end" style="font-family:'Liberation Serif',serif;font-weight:bold;font-size:34px">30</text>
<line x1="110.30" y1="1949.11" x2="113.80" y2="1949.11" stroke="#000" stroke-width="2"/>
<line x1="107.30" y1="1924.12" x2="113.80" y2="1924.12" stroke="#000" stroke-width="2"/>
<text transform="translate(102.8,1935.12) scale(1.04,1.095)" text-anchor="end" style="font-family:'Liberation Serif',serif;font-weight:bold;font-size:34px">40</text>
<line x1="110.30" y1="1899.13" x2="113.80" y2="1899.13" stroke="#000" stroke-width="2"/>
<line x1="107.30" y1="1874.15" x2="113.80" y2="1874.15" stroke="#000" stroke-width="2"/>
<text transform="translate(102.8,1885.15) scale(1.04,1.095)" text-anchor="end" style="font-family:'Liberation Serif',serif;font-weight:bold;font-size:34px">50</text>
<line x1="110.30" y1="1849.16" x2="113.80" y2="1849.16" stroke="#000" stroke-width="2"/>
<line x1="107.30" y1="1824.18" x2="113.80" y2="1824.18" stroke="#000" stroke-width="2"/>
<text transform="translate(102.8,1835.18) scale(1.04,1.095)" text-anchor="end" style="font-family:'Liberation Serif',serif;font-weight:bold;font-size:34px">60</text>
<line x1="110.30" y1="1799.19" x2="113.80" y2="1799.19" stroke="#000" stroke-width="2"/>
<line x1="107.30" y1="1774.21" x2="113.80" y2="1774.21" stroke="#000" stroke-width="2"/>
<text transform="translate(102.8,1785.21) scale(1.04,1.095)" text-anchor="end" style="font-family:'Liberation Serif',serif;font-weight:bold;font-size:34px">70</text>
<line x1="110.30" y1="1749.22" x2="113.80" y2="1749.22" stroke="#000" stroke-width="2"/>
<line x1="107.30" y1="1724.24" x2="113.80" y2="1724.24" stroke="#000" stroke-width="2"/>
<text transform="translate(102.8,1735.24) scale(1.04,1.095)" text-anchor="end" style="font-family:'Liberation Serif',serif;font-weight:bold;font-size:34px">80</text>
<line x1="110.30" y1="1699.25" x2="113.80" y2="1699.25" stroke="#000" stroke-width="2"/>
<line x1="107.30" y1="1674.27" x2="113.80" y2="1674.27" stroke="#000" stroke-width="2"/>
<text transform="translate(102.8,1685.27) scale(1.04,1.095)" text-anchor="end" style="font-family:'Liberation Serif',serif;font-weight:bold;font-size:34px">90</text>
<line x1="110.30" y1="1649.28" x2="113.80" y2="1649.28" stroke="#000" stroke-width="2"/>
<line x1="107.30" y1="1624.30" x2="113.80" y2="1624.30" stroke="#000" stroke-width="2"/>
<text transform="translate(102.8,1635.30) scale(1.04,1.095)" text-anchor="end" style="font-family:'Liberation Serif',serif;font-weight:bold;font-size:34px">100</text>
<text x="138.2" y="2024.4" style="font-family:'Liberation Serif',serif;font-size:33px">F: <tspan style="stroke:#000;stroke-width:0.5px">**</tspan></text>
<text x="235.3" y="2024.4" style="font-family:'Liberation Serif',serif;font-size:33px">N: <tspan style="stroke:#000;stroke-width:0.5px">**</tspan></text>
<text x="391.8" y="2024.4" style="font-family:'Liberation Serif',serif;font-size:33px">F × N: NS</text>
<text x="558.3" y="2024.4" style="font-family:'Liberation Serif',serif;font-size:33px">F × S × N: NS</text>
<text x="138.2" y="2080.5" style="font-family:'Liberation Serif',serif;font-size:33px">S: <tspan style="stroke:#000;stroke-width:0.5px">**</tspan></text>
<text x="235.3" y="2080.5" style="font-family:'Liberation Serif',serif;font-size:33px">F × S: <tspan style="stroke:#000;stroke-width:0.5px">**</tspan></text>
<text x="389.6" y="2080.5" style="font-family:'Liberation Serif',serif;font-size:33px">S × N: NS</text>
<text transform="translate(38.8,1873.8) rotate(-90)" text-anchor="middle" xml:space="preserve" textLength="369" lengthAdjust="spacing" style="font-family:'Liberation Serif',serif;font-weight:bold;font-size:40px"><tspan>MDA (nmol ml</tspan><tspan dy="-16" style="font-size:25px">-1</tspan><tspan dy="16"> FW)</tspan></text>
<rect x="809.3" y="60.40" width="62.5" height="30" fill="#EE0000" stroke="#000" stroke-width="2.2" rx="1"/>
<text transform="translate(881.2,85.50) scale(1.0,1.05)" style="font-family:'Liberation Serif',serif;font-weight:bold;font-size:28.5px">N0</text>
<rect x="809.3" y="97.40" width="62.5" height="30" fill="#336699" stroke="#000" stroke-width="2.2" rx="1"/>
<text transform="translate(881.2,122.13) scale(1.0,1.05)" style="font-family:'Liberation Serif',serif;font-weight:bold;font-size:28.5px">N1</text>
<rect x="809.3" y="134.40" width="62.5" height="30" fill="#FFC316" stroke="#000" stroke-width="2.2" rx="1"/>
<text transform="translate(881.2,158.76) scale(1.0,1.05)" style="font-family:'Liberation Serif',serif;font-weight:bold;font-size:28.5px">N2</text>
<rect x="809.3" y="171.40" width="62.5" height="30" fill="#3CC473" stroke="#000" stroke-width="2.2" rx="1"/>
<text transform="translate(881.2,195.39) scale(1.0,1.05)" style="font-family:'Liberation Serif',serif;font-weight:bold;font-size:28.5px">N3</text>
<line x1="199.88" y1="2124" x2="199.88" y2="2133" stroke="#000" stroke-width="2"/>
<text transform="translate(199.88,2184.5) scale(1.0,1.07)" text-anchor="middle" style="font-family:'Liberation Serif',serif;font-weight:bold;font-size:40.2px">S0</text>
<line x1="372.04" y1="2124" x2="372.04" y2="2133" stroke="#000" stroke-width="2"/>
<text transform="translate(372.04,2184.5) scale(1.0,1.07)" text-anchor="middle" style="font-family:'Liberation Serif',serif;font-weight:bold;font-size:40.2px">S1</text>
<line x1="544.21" y1="2124" x2="544.21" y2="2133" stroke="#000" stroke-width="2"/>
<text transform="translate(544.21,2184.5) scale(1.0,1.07)" text-anchor="middle" style="font-family:'Liberation Serif',serif;font-weight:bold;font-size:40.2px">S2</text>
<line x1="716.37" y1="2124" x2="716.37" y2="2133" stroke="#000" stroke-width="2"/>
<text transform="translate(716.37,2184.5) scale(1.0,1.07)" text-anchor="middle" style="font-family:'Liberation Serif',serif;font-weight:bold;font-size:40.2px">S3</text>
<line x1="888.53" y1="2124" x2="888.53" y2="2133" stroke="#000" stroke-width="2"/>
<text transform="translate(888.53,2184.5) scale(1.0,1.07)" text-anchor="middle" style="font-family:'Liberation Serif',serif;font-weight:bold;font-size:40.2px">S0</text>
<line x1="1060.69" y1="2124" x2="1060.69" y2="2133" stroke="#000" stroke-width="2"/>
<text transform="translate(1060.69,2184.5) scale(1.0,1.07)" text-anchor="middle" style="font-family:'Liberation Serif',serif;font-weight:bold;font-size:40.2px">S1</text>
<line x1="1232.86" y1="2124" x2="1232.86" y2="2133" stroke="#000" stroke-width="2"/>
<text transform="translate(1232.86,2184.5) scale(1.0,1.07)" text-anchor="middle" style="font-family:'Liberation Serif',serif;font-weight:bold;font-size:40.2px">S2</text>
<line x1="1405.02" y1="2124" x2="1405.02" y2="2133" stroke="#000" stroke-width="2"/>
<text transform="translate(1405.02,2184.5) scale(1.0,1.07)" text-anchor="middle" style="font-family:'Liberation Serif',serif;font-weight:bold;font-size:40.2px">S3</text>
</svg></body></html>
